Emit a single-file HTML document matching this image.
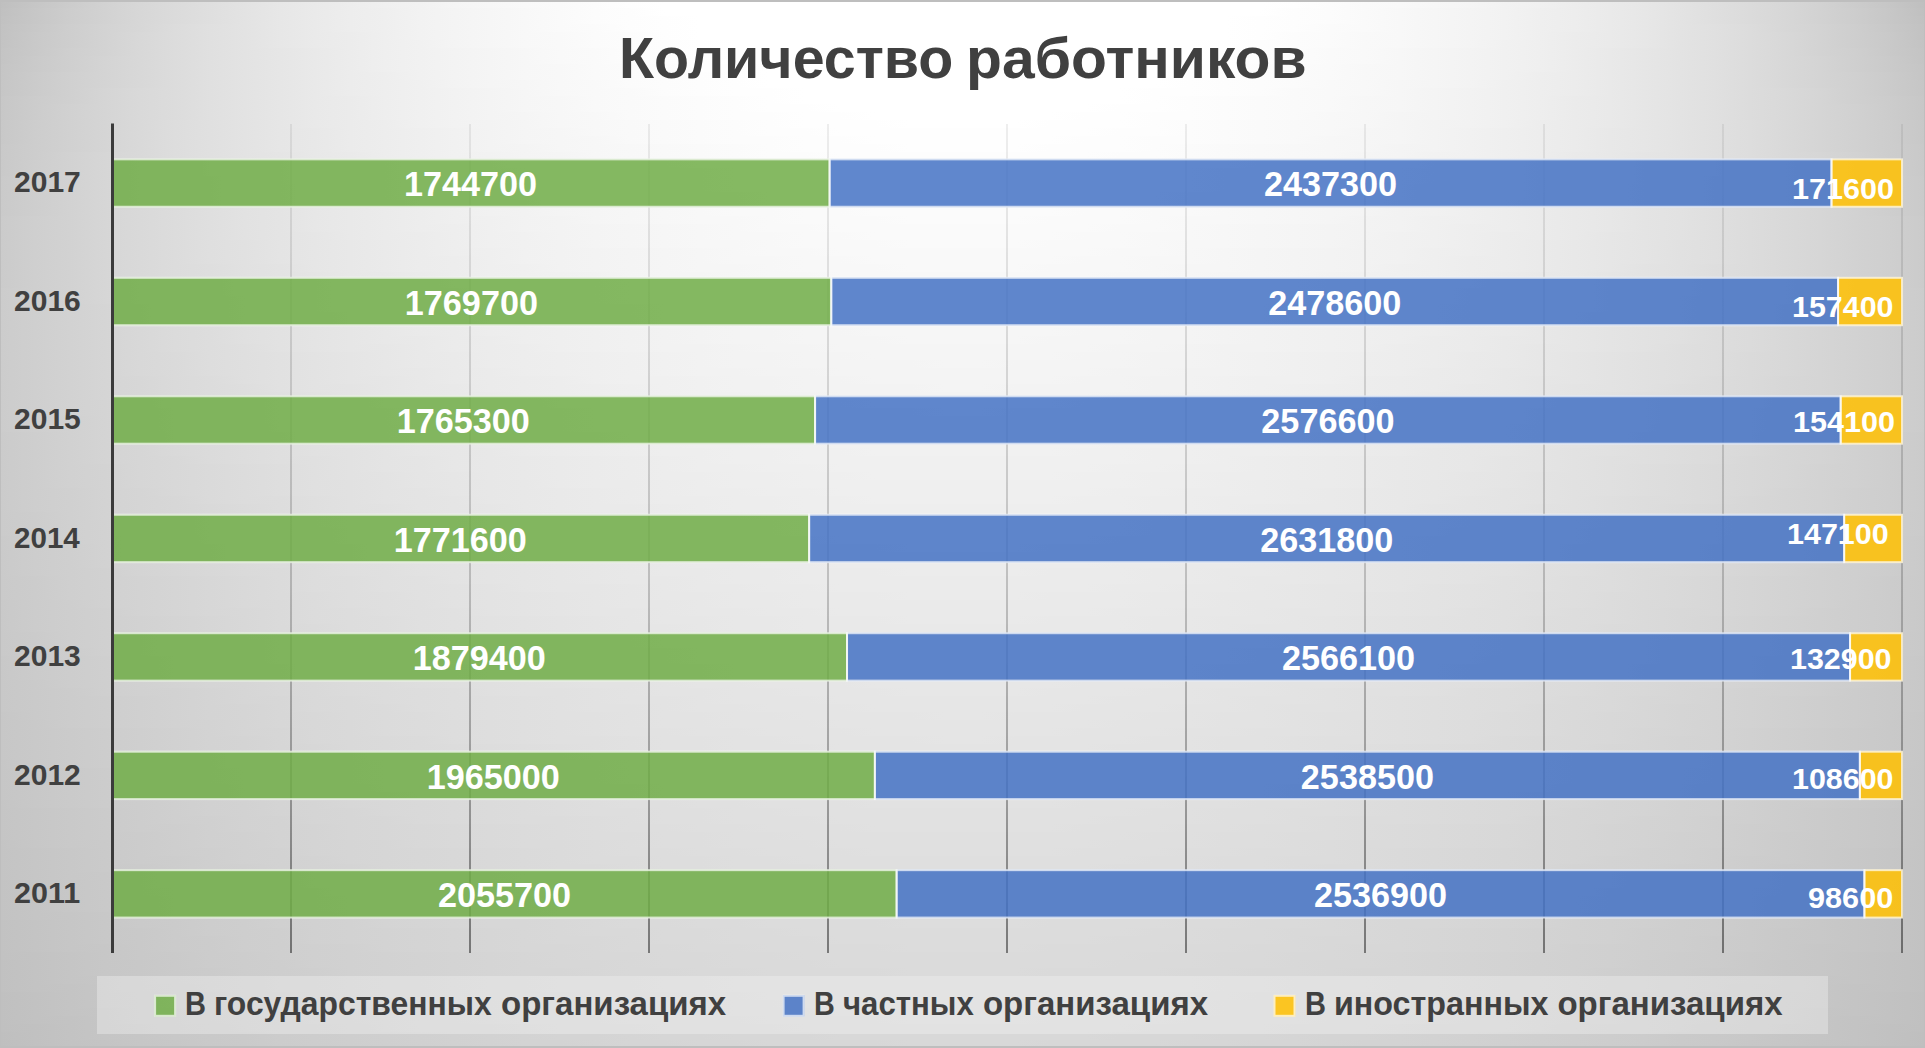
<!DOCTYPE html>
<html><head><meta charset="utf-8"><title>Количество работников</title>
<style>
html,body{margin:0;padding:0;background:#d8d8d8}
#c{position:relative;width:1925px;height:1048px;overflow:hidden;font-family:"Liberation Sans",sans-serif;font-weight:bold}
#bg i{position:absolute;left:0;width:1925px;height:8px;display:block}
#c svg{position:absolute;left:0;top:0}
.t{position:absolute;white-space:nowrap;line-height:1;transform-origin:0 0}
#leg{position:absolute;left:97px;top:976px;width:1731px;height:58px;background:rgba(242,242,242,.39)}
#bd{position:absolute;left:0;top:0;width:1925px;height:1048px;box-sizing:border-box;border:2px solid #bebebe;border-left-width:1px;border-right-width:1px}
</style></head><body>
<div id="c">
<div id="bg">
<i style="top:0px;background:linear-gradient(90deg,#bfbfbf 0px,#c6c6c6 35px,#cccccc 70px,#d2d2d2 105px,#d7d7d7 140px,#dbdbdb 175px,#dfdfdf 210px,#e3e3e3 245px,#e7e7e7 280px,#eaeaea 315px,#ededed 350px,#f0f0f0 385px,#f2f2f2 420px,#f5f5f5 455px,#f7f7f7 490px,#f9f9f9 525px,#fafafa 560px,#fcfcfc 595px,#fefefe 630px,#ffffff 665px,#ffffff 1260px,#fefefe 1295px,#fcfcfc 1330px,#fafafa 1365px,#f9f9f9 1400px,#f7f7f7 1435px,#f5f5f5 1470px,#f2f2f2 1505px,#f0f0f0 1540px,#ededed 1575px,#eaeaea 1610px,#e7e7e7 1645px,#e3e3e3 1680px,#dfdfdf 1715px,#dbdbdb 1750px,#d7d7d7 1785px,#d2d2d2 1820px,#cccccc 1855px,#c6c6c6 1890px,#bfbfbf 1925px)"></i>
<i style="top:8px;background:linear-gradient(90deg,#c0c0c0 0px,#c7c7c7 35px,#cdcdcd 70px,#d2d2d2 105px,#d7d7d7 140px,#dbdbdb 175px,#dfdfdf 210px,#e3e3e3 245px,#e7e7e7 280px,#eaeaea 315px,#ededed 350px,#efefef 385px,#f2f2f2 420px,#f4f4f4 455px,#f6f6f6 490px,#f8f8f8 525px,#fafafa 560px,#fcfcfc 595px,#fdfdfd 630px,#ffffff 665px,#ffffff 1260px,#fdfdfd 1295px,#fcfcfc 1330px,#fafafa 1365px,#f8f8f8 1400px,#f6f6f6 1435px,#f4f4f4 1470px,#f2f2f2 1505px,#efefef 1540px,#ededed 1575px,#eaeaea 1610px,#e7e7e7 1645px,#e3e3e3 1680px,#dfdfdf 1715px,#dbdbdb 1750px,#d7d7d7 1785px,#d2d2d2 1820px,#cdcdcd 1855px,#c7c7c7 1890px,#c0c0c0 1925px)"></i>
<i style="top:16px;background:linear-gradient(90deg,#c1c1c1 0px,#c7c7c7 35px,#cdcdcd 70px,#d2d2d2 105px,#d7d7d7 140px,#dbdbdb 175px,#dfdfdf 210px,#e3e3e3 245px,#e7e7e7 280px,#eaeaea 315px,#ededed 350px,#efefef 385px,#f2f2f2 420px,#f4f4f4 455px,#f6f6f6 490px,#f8f8f8 525px,#fafafa 560px,#fcfcfc 595px,#fdfdfd 630px,#fefefe 665px,#ffffff 700px,#ffffff 1225px,#fefefe 1260px,#fdfdfd 1295px,#fcfcfc 1330px,#fafafa 1365px,#f8f8f8 1400px,#f6f6f6 1435px,#f4f4f4 1470px,#f2f2f2 1505px,#efefef 1540px,#ededed 1575px,#eaeaea 1610px,#e7e7e7 1645px,#e3e3e3 1680px,#dfdfdf 1715px,#dbdbdb 1750px,#d7d7d7 1785px,#d2d2d2 1820px,#cdcdcd 1855px,#c7c7c7 1890px,#c1c1c1 1925px)"></i>
<i style="top:24px;background:linear-gradient(90deg,#c2c2c2 0px,#c8c8c8 35px,#cecece 70px,#d3d3d3 105px,#d7d7d7 140px,#dcdcdc 175px,#e0e0e0 210px,#e3e3e3 245px,#e7e7e7 280px,#eaeaea 315px,#ededed 350px,#efefef 385px,#f2f2f2 420px,#f4f4f4 455px,#f6f6f6 490px,#f8f8f8 525px,#fafafa 560px,#fbfbfb 595px,#fdfdfd 630px,#fefefe 665px,#ffffff 700px,#ffffff 1225px,#fefefe 1260px,#fdfdfd 1295px,#fbfbfb 1330px,#fafafa 1365px,#f8f8f8 1400px,#f6f6f6 1435px,#f4f4f4 1470px,#f2f2f2 1505px,#efefef 1540px,#ededed 1575px,#eaeaea 1610px,#e7e7e7 1645px,#e3e3e3 1680px,#e0e0e0 1715px,#dcdcdc 1750px,#d7d7d7 1785px,#d3d3d3 1820px,#cecece 1855px,#c8c8c8 1890px,#c2c2c2 1925px)"></i>
<i style="top:32px;background:linear-gradient(90deg,#c2c2c2 0px,#c9c9c9 35px,#cecece 70px,#d3d3d3 105px,#d8d8d8 140px,#dcdcdc 175px,#e0e0e0 210px,#e3e3e3 245px,#e7e7e7 280px,#eaeaea 315px,#ececec 350px,#efefef 385px,#f2f2f2 420px,#f4f4f4 455px,#f6f6f6 490px,#f8f8f8 525px,#f9f9f9 560px,#fbfbfb 595px,#fcfcfc 630px,#fefefe 665px,#ffffff 700px,#ffffff 1225px,#fefefe 1260px,#fcfcfc 1295px,#fbfbfb 1330px,#f9f9f9 1365px,#f8f8f8 1400px,#f6f6f6 1435px,#f4f4f4 1470px,#f2f2f2 1505px,#efefef 1540px,#ececec 1575px,#eaeaea 1610px,#e7e7e7 1645px,#e3e3e3 1680px,#e0e0e0 1715px,#dcdcdc 1750px,#d8d8d8 1785px,#d3d3d3 1820px,#cecece 1855px,#c9c9c9 1890px,#c2c2c2 1925px)"></i>
<i style="top:40px;background:linear-gradient(90deg,#c3c3c3 0px,#c9c9c9 35px,#cecece 70px,#d3d3d3 105px,#d8d8d8 140px,#dcdcdc 175px,#e0e0e0 210px,#e3e3e3 245px,#e7e7e7 280px,#eaeaea 315px,#ececec 350px,#efefef 385px,#f1f1f1 420px,#f4f4f4 455px,#f6f6f6 490px,#f8f8f8 525px,#f9f9f9 560px,#fbfbfb 595px,#fcfcfc 630px,#fdfdfd 665px,#fefefe 700px,#ffffff 735px,#ffffff 1190px,#fefefe 1225px,#fdfdfd 1260px,#fcfcfc 1295px,#fbfbfb 1330px,#f9f9f9 1365px,#f8f8f8 1400px,#f6f6f6 1435px,#f4f4f4 1470px,#f1f1f1 1505px,#efefef 1540px,#ececec 1575px,#eaeaea 1610px,#e7e7e7 1645px,#e3e3e3 1680px,#e0e0e0 1715px,#dcdcdc 1750px,#d8d8d8 1785px,#d3d3d3 1820px,#cecece 1855px,#c9c9c9 1890px,#c3c3c3 1925px)"></i>
<i style="top:48px;background:linear-gradient(90deg,#c4c4c4 0px,#c9c9c9 35px,#cfcfcf 70px,#d3d3d3 105px,#d8d8d8 140px,#dcdcdc 175px,#e0e0e0 210px,#e3e3e3 245px,#e6e6e6 280px,#e9e9e9 315px,#ececec 350px,#efefef 385px,#f1f1f1 420px,#f3f3f3 455px,#f5f5f5 490px,#f7f7f7 525px,#f9f9f9 560px,#fafafa 595px,#fcfcfc 630px,#fdfdfd 665px,#fefefe 700px,#ffffff 735px,#ffffff 1190px,#fefefe 1225px,#fdfdfd 1260px,#fcfcfc 1295px,#fafafa 1330px,#f9f9f9 1365px,#f7f7f7 1400px,#f5f5f5 1435px,#f3f3f3 1470px,#f1f1f1 1505px,#efefef 1540px,#ececec 1575px,#e9e9e9 1610px,#e6e6e6 1645px,#e3e3e3 1680px,#e0e0e0 1715px,#dcdcdc 1750px,#d8d8d8 1785px,#d3d3d3 1820px,#cfcfcf 1855px,#c9c9c9 1890px,#c4c4c4 1925px)"></i>
<i style="top:56px;background:linear-gradient(90deg,#c4c4c4 0px,#cacaca 35px,#cfcfcf 70px,#d4d4d4 105px,#d8d8d8 140px,#dcdcdc 175px,#e0e0e0 210px,#e3e3e3 245px,#e6e6e6 280px,#e9e9e9 315px,#ececec 350px,#efefef 385px,#f1f1f1 420px,#f3f3f3 455px,#f5f5f5 490px,#f7f7f7 525px,#f9f9f9 560px,#fafafa 595px,#fcfcfc 630px,#fdfdfd 665px,#fefefe 700px,#ffffff 735px,#ffffff 1190px,#fefefe 1225px,#fdfdfd 1260px,#fcfcfc 1295px,#fafafa 1330px,#f9f9f9 1365px,#f7f7f7 1400px,#f5f5f5 1435px,#f3f3f3 1470px,#f1f1f1 1505px,#efefef 1540px,#ececec 1575px,#e9e9e9 1610px,#e6e6e6 1645px,#e3e3e3 1680px,#e0e0e0 1715px,#dcdcdc 1750px,#d8d8d8 1785px,#d4d4d4 1820px,#cfcfcf 1855px,#cacaca 1890px,#c4c4c4 1925px)"></i>
<i style="top:64px;background:linear-gradient(90deg,#c5c5c5 0px,#cacaca 35px,#cfcfcf 70px,#d4d4d4 105px,#d8d8d8 140px,#dcdcdc 175px,#e0e0e0 210px,#e3e3e3 245px,#e6e6e6 280px,#e9e9e9 315px,#ececec 350px,#efefef 385px,#f1f1f1 420px,#f3f3f3 455px,#f5f5f5 490px,#f7f7f7 525px,#f8f8f8 560px,#fafafa 595px,#fbfbfb 630px,#fcfcfc 665px,#fefefe 700px,#fefefe 735px,#ffffff 770px,#ffffff 1155px,#fefefe 1190px,#fefefe 1225px,#fcfcfc 1260px,#fbfbfb 1295px,#fafafa 1330px,#f8f8f8 1365px,#f7f7f7 1400px,#f5f5f5 1435px,#f3f3f3 1470px,#f1f1f1 1505px,#efefef 1540px,#ececec 1575px,#e9e9e9 1610px,#e6e6e6 1645px,#e3e3e3 1680px,#e0e0e0 1715px,#dcdcdc 1750px,#d8d8d8 1785px,#d4d4d4 1820px,#cfcfcf 1855px,#cacaca 1890px,#c5c5c5 1925px)"></i>
<i style="top:72px;background:linear-gradient(90deg,#c5c5c5 0px,#cbcbcb 35px,#d0d0d0 70px,#d4d4d4 105px,#d8d8d8 140px,#dcdcdc 175px,#e0e0e0 210px,#e3e3e3 245px,#e6e6e6 280px,#e9e9e9 315px,#ececec 350px,#eeeeee 385px,#f1f1f1 420px,#f3f3f3 455px,#f5f5f5 490px,#f7f7f7 525px,#f8f8f8 560px,#fafafa 595px,#fbfbfb 630px,#fcfcfc 665px,#fdfdfd 700px,#fefefe 735px,#ffffff 770px,#ffffff 1155px,#fefefe 1190px,#fdfdfd 1225px,#fcfcfc 1260px,#fbfbfb 1295px,#fafafa 1330px,#f8f8f8 1365px,#f7f7f7 1400px,#f5f5f5 1435px,#f3f3f3 1470px,#f1f1f1 1505px,#eeeeee 1540px,#ececec 1575px,#e9e9e9 1610px,#e6e6e6 1645px,#e3e3e3 1680px,#e0e0e0 1715px,#dcdcdc 1750px,#d8d8d8 1785px,#d4d4d4 1820px,#d0d0d0 1855px,#cbcbcb 1890px,#c5c5c5 1925px)"></i>
<i style="top:80px;background:linear-gradient(90deg,#c6c6c6 0px,#cbcbcb 35px,#d0d0d0 70px,#d4d4d4 105px,#d8d8d8 140px,#dcdcdc 175px,#e0e0e0 210px,#e3e3e3 245px,#e6e6e6 280px,#e9e9e9 315px,#ececec 350px,#eeeeee 385px,#f0f0f0 420px,#f3f3f3 455px,#f5f5f5 490px,#f6f6f6 525px,#f8f8f8 560px,#f9f9f9 595px,#fbfbfb 630px,#fcfcfc 665px,#fdfdfd 700px,#fefefe 735px,#ffffff 770px,#ffffff 1155px,#fefefe 1190px,#fdfdfd 1225px,#fcfcfc 1260px,#fbfbfb 1295px,#f9f9f9 1330px,#f8f8f8 1365px,#f6f6f6 1400px,#f5f5f5 1435px,#f3f3f3 1470px,#f0f0f0 1505px,#eeeeee 1540px,#ececec 1575px,#e9e9e9 1610px,#e6e6e6 1645px,#e3e3e3 1680px,#e0e0e0 1715px,#dcdcdc 1750px,#d8d8d8 1785px,#d4d4d4 1820px,#d0d0d0 1855px,#cbcbcb 1890px,#c6c6c6 1925px)"></i>
<i style="top:88px;background:linear-gradient(90deg,#c6c6c6 0px,#cbcbcb 35px,#d0d0d0 70px,#d5d5d5 105px,#d9d9d9 140px,#dcdcdc 175px,#e0e0e0 210px,#e3e3e3 245px,#e6e6e6 280px,#e9e9e9 315px,#ececec 350px,#eeeeee 385px,#f0f0f0 420px,#f2f2f2 455px,#f4f4f4 490px,#f6f6f6 525px,#f8f8f8 560px,#f9f9f9 595px,#fafafa 630px,#fcfcfc 665px,#fdfdfd 700px,#fefefe 735px,#fefefe 770px,#ffffff 805px,#ffffff 1120px,#fefefe 1155px,#fefefe 1190px,#fdfdfd 1225px,#fcfcfc 1260px,#fafafa 1295px,#f9f9f9 1330px,#f8f8f8 1365px,#f6f6f6 1400px,#f4f4f4 1435px,#f2f2f2 1470px,#f0f0f0 1505px,#eeeeee 1540px,#ececec 1575px,#e9e9e9 1610px,#e6e6e6 1645px,#e3e3e3 1680px,#e0e0e0 1715px,#dcdcdc 1750px,#d9d9d9 1785px,#d5d5d5 1820px,#d0d0d0 1855px,#cbcbcb 1890px,#c6c6c6 1925px)"></i>
<i style="top:96px;background:linear-gradient(90deg,#c7c7c7 0px,#cccccc 35px,#d0d0d0 70px,#d5d5d5 105px,#d9d9d9 140px,#dcdcdc 175px,#e0e0e0 210px,#e3e3e3 245px,#e6e6e6 280px,#e9e9e9 315px,#ebebeb 350px,#eeeeee 385px,#f0f0f0 420px,#f2f2f2 455px,#f4f4f4 490px,#f6f6f6 525px,#f7f7f7 560px,#f9f9f9 595px,#fafafa 630px,#fbfbfb 665px,#fcfcfc 700px,#fdfdfd 735px,#fefefe 770px,#ffffff 805px,#ffffff 1120px,#fefefe 1155px,#fdfdfd 1190px,#fcfcfc 1225px,#fbfbfb 1260px,#fafafa 1295px,#f9f9f9 1330px,#f7f7f7 1365px,#f6f6f6 1400px,#f4f4f4 1435px,#f2f2f2 1470px,#f0f0f0 1505px,#eeeeee 1540px,#ebebeb 1575px,#e9e9e9 1610px,#e6e6e6 1645px,#e3e3e3 1680px,#e0e0e0 1715px,#dcdcdc 1750px,#d9d9d9 1785px,#d5d5d5 1820px,#d0d0d0 1855px,#cccccc 1890px,#c7c7c7 1925px)"></i>
<i style="top:104px;background:linear-gradient(90deg,#c7c7c7 0px,#cccccc 35px,#d1d1d1 70px,#d5d5d5 105px,#d9d9d9 140px,#dcdcdc 175px,#e0e0e0 210px,#e3e3e3 245px,#e6e6e6 280px,#e9e9e9 315px,#ebebeb 350px,#eeeeee 385px,#f0f0f0 420px,#f2f2f2 455px,#f4f4f4 490px,#f6f6f6 525px,#f7f7f7 560px,#f9f9f9 595px,#fafafa 630px,#fbfbfb 665px,#fcfcfc 700px,#fdfdfd 735px,#fefefe 770px,#fefefe 805px,#ffffff 840px,#ffffff 1085px,#fefefe 1120px,#fefefe 1155px,#fdfdfd 1190px,#fcfcfc 1225px,#fbfbfb 1260px,#fafafa 1295px,#f9f9f9 1330px,#f7f7f7 1365px,#f6f6f6 1400px,#f4f4f4 1435px,#f2f2f2 1470px,#f0f0f0 1505px,#eeeeee 1540px,#ebebeb 1575px,#e9e9e9 1610px,#e6e6e6 1645px,#e3e3e3 1680px,#e0e0e0 1715px,#dcdcdc 1750px,#d9d9d9 1785px,#d5d5d5 1820px,#d1d1d1 1855px,#cccccc 1890px,#c7c7c7 1925px)"></i>
<i style="top:112px;background:linear-gradient(90deg,#c7c7c7 0px,#cccccc 35px,#d1d1d1 70px,#d5d5d5 105px,#d9d9d9 140px,#dcdcdc 175px,#e0e0e0 210px,#e3e3e3 245px,#e6e6e6 280px,#e9e9e9 315px,#ebebeb 350px,#eeeeee 385px,#f0f0f0 420px,#f2f2f2 455px,#f4f4f4 490px,#f5f5f5 525px,#f7f7f7 560px,#f8f8f8 595px,#fafafa 630px,#fbfbfb 665px,#fcfcfc 700px,#fdfdfd 735px,#fdfdfd 770px,#fefefe 805px,#fefefe 840px,#ffffff 875px,#ffffff 1050px,#fefefe 1085px,#fefefe 1120px,#fdfdfd 1155px,#fdfdfd 1190px,#fcfcfc 1225px,#fbfbfb 1260px,#fafafa 1295px,#f8f8f8 1330px,#f7f7f7 1365px,#f5f5f5 1400px,#f4f4f4 1435px,#f2f2f2 1470px,#f0f0f0 1505px,#eeeeee 1540px,#ebebeb 1575px,#e9e9e9 1610px,#e6e6e6 1645px,#e3e3e3 1680px,#e0e0e0 1715px,#dcdcdc 1750px,#d9d9d9 1785px,#d5d5d5 1820px,#d1d1d1 1855px,#cccccc 1890px,#c7c7c7 1925px)"></i>
<i style="top:120px;background:linear-gradient(90deg,#c8c8c8 0px,#cdcdcd 35px,#d1d1d1 70px,#d5d5d5 105px,#d9d9d9 140px,#dddddd 175px,#e0e0e0 210px,#e3e3e3 245px,#e6e6e6 280px,#e9e9e9 315px,#ebebeb 350px,#ededed 385px,#f0f0f0 420px,#f2f2f2 455px,#f3f3f3 490px,#f5f5f5 525px,#f7f7f7 560px,#f8f8f8 595px,#f9f9f9 630px,#fafafa 665px,#fbfbfb 700px,#fcfcfc 735px,#fdfdfd 770px,#fefefe 805px,#fefefe 875px,#ffffff 910px,#ffffff 1015px,#fefefe 1050px,#fefefe 1120px,#fdfdfd 1155px,#fcfcfc 1190px,#fbfbfb 1225px,#fafafa 1260px,#f9f9f9 1295px,#f8f8f8 1330px,#f7f7f7 1365px,#f5f5f5 1400px,#f3f3f3 1435px,#f2f2f2 1470px,#f0f0f0 1505px,#ededed 1540px,#ebebeb 1575px,#e9e9e9 1610px,#e6e6e6 1645px,#e3e3e3 1680px,#e0e0e0 1715px,#dddddd 1750px,#d9d9d9 1785px,#d5d5d5 1820px,#d1d1d1 1855px,#cdcdcd 1890px,#c8c8c8 1925px)"></i>
<i style="top:128px;background:linear-gradient(90deg,#c8c8c8 0px,#cdcdcd 35px,#d1d1d1 70px,#d5d5d5 105px,#d9d9d9 140px,#dddddd 175px,#e0e0e0 210px,#e3e3e3 245px,#e6e6e6 280px,#e8e8e8 315px,#ebebeb 350px,#ededed 385px,#efefef 420px,#f1f1f1 455px,#f3f3f3 490px,#f5f5f5 525px,#f6f6f6 560px,#f8f8f8 595px,#f9f9f9 630px,#fafafa 665px,#fbfbfb 700px,#fcfcfc 735px,#fdfdfd 770px,#fdfdfd 805px,#fefefe 840px,#fefefe 1085px,#fdfdfd 1120px,#fdfdfd 1155px,#fcfcfc 1190px,#fbfbfb 1225px,#fafafa 1260px,#f9f9f9 1295px,#f8f8f8 1330px,#f6f6f6 1365px,#f5f5f5 1400px,#f3f3f3 1435px,#f1f1f1 1470px,#efefef 1505px,#ededed 1540px,#ebebeb 1575px,#e8e8e8 1610px,#e6e6e6 1645px,#e3e3e3 1680px,#e0e0e0 1715px,#dddddd 1750px,#d9d9d9 1785px,#d5d5d5 1820px,#d1d1d1 1855px,#cdcdcd 1890px,#c8c8c8 1925px)"></i>
<i style="top:136px;background:linear-gradient(90deg,#c8c8c8 0px,#cdcdcd 35px,#d1d1d1 70px,#d5d5d5 105px,#d9d9d9 140px,#dddddd 175px,#e0e0e0 210px,#e3e3e3 245px,#e6e6e6 280px,#e8e8e8 315px,#ebebeb 350px,#ededed 385px,#efefef 420px,#f1f1f1 455px,#f3f3f3 490px,#f5f5f5 525px,#f6f6f6 560px,#f7f7f7 595px,#f9f9f9 630px,#fafafa 665px,#fbfbfb 700px,#fcfcfc 735px,#fcfcfc 770px,#fdfdfd 805px,#fdfdfd 840px,#fefefe 875px,#fefefe 1050px,#fdfdfd 1085px,#fdfdfd 1120px,#fcfcfc 1155px,#fcfcfc 1190px,#fbfbfb 1225px,#fafafa 1260px,#f9f9f9 1295px,#f7f7f7 1330px,#f6f6f6 1365px,#f5f5f5 1400px,#f3f3f3 1435px,#f1f1f1 1470px,#efefef 1505px,#ededed 1540px,#ebebeb 1575px,#e8e8e8 1610px,#e6e6e6 1645px,#e3e3e3 1680px,#e0e0e0 1715px,#dddddd 1750px,#d9d9d9 1785px,#d5d5d5 1820px,#d1d1d1 1855px,#cdcdcd 1890px,#c8c8c8 1925px)"></i>
<i style="top:144px;background:linear-gradient(90deg,#c9c9c9 0px,#cdcdcd 35px,#d1d1d1 70px,#d5d5d5 105px,#d9d9d9 140px,#dddddd 175px,#e0e0e0 210px,#e3e3e3 245px,#e6e6e6 280px,#e8e8e8 315px,#ebebeb 350px,#ededed 385px,#efefef 420px,#f1f1f1 455px,#f3f3f3 490px,#f4f4f4 525px,#f6f6f6 560px,#f7f7f7 595px,#f8f8f8 630px,#f9f9f9 665px,#fafafa 700px,#fbfbfb 735px,#fcfcfc 770px,#fdfdfd 805px,#fdfdfd 875px,#fefefe 910px,#fefefe 1015px,#fdfdfd 1050px,#fdfdfd 1120px,#fcfcfc 1155px,#fbfbfb 1190px,#fafafa 1225px,#f9f9f9 1260px,#f8f8f8 1295px,#f7f7f7 1330px,#f6f6f6 1365px,#f4f4f4 1400px,#f3f3f3 1435px,#f1f1f1 1470px,#efefef 1505px,#ededed 1540px,#ebebeb 1575px,#e8e8e8 1610px,#e6e6e6 1645px,#e3e3e3 1680px,#e0e0e0 1715px,#dddddd 1750px,#d9d9d9 1785px,#d5d5d5 1820px,#d1d1d1 1855px,#cdcdcd 1890px,#c9c9c9 1925px)"></i>
<i style="top:152px;background:linear-gradient(90deg,#c9c9c9 0px,#cdcdcd 35px,#d2d2d2 70px,#d6d6d6 105px,#d9d9d9 140px,#dddddd 175px,#e0e0e0 210px,#e3e3e3 245px,#e5e5e5 280px,#e8e8e8 315px,#eaeaea 350px,#ededed 385px,#efefef 420px,#f1f1f1 455px,#f2f2f2 490px,#f4f4f4 525px,#f5f5f5 560px,#f7f7f7 595px,#f8f8f8 630px,#f9f9f9 665px,#fafafa 700px,#fbfbfb 735px,#fcfcfc 770px,#fcfcfc 805px,#fdfdfd 840px,#fdfdfd 1085px,#fcfcfc 1120px,#fcfcfc 1155px,#fbfbfb 1190px,#fafafa 1225px,#f9f9f9 1260px,#f8f8f8 1295px,#f7f7f7 1330px,#f5f5f5 1365px,#f4f4f4 1400px,#f2f2f2 1435px,#f1f1f1 1470px,#efefef 1505px,#ededed 1540px,#eaeaea 1575px,#e8e8e8 1610px,#e5e5e5 1645px,#e3e3e3 1680px,#e0e0e0 1715px,#dddddd 1750px,#d9d9d9 1785px,#d6d6d6 1820px,#d2d2d2 1855px,#cdcdcd 1890px,#c9c9c9 1925px)"></i>
<i style="top:160px;background:linear-gradient(90deg,#c9c9c9 0px,#cecece 35px,#d2d2d2 70px,#d6d6d6 105px,#d9d9d9 140px,#dcdcdc 175px,#e0e0e0 210px,#e3e3e3 245px,#e5e5e5 280px,#e8e8e8 315px,#eaeaea 350px,#ececec 385px,#eeeeee 420px,#f0f0f0 455px,#f2f2f2 490px,#f4f4f4 525px,#f5f5f5 560px,#f7f7f7 595px,#f8f8f8 630px,#f9f9f9 665px,#fafafa 700px,#fbfbfb 735px,#fbfbfb 770px,#fcfcfc 805px,#fcfcfc 840px,#fdfdfd 875px,#fdfdfd 1050px,#fcfcfc 1085px,#fcfcfc 1120px,#fbfbfb 1155px,#fbfbfb 1190px,#fafafa 1225px,#f9f9f9 1260px,#f8f8f8 1295px,#f7f7f7 1330px,#f5f5f5 1365px,#f4f4f4 1400px,#f2f2f2 1435px,#f0f0f0 1470px,#eeeeee 1505px,#ececec 1540px,#eaeaea 1575px,#e8e8e8 1610px,#e5e5e5 1645px,#e3e3e3 1680px,#e0e0e0 1715px,#dcdcdc 1750px,#d9d9d9 1785px,#d6d6d6 1820px,#d2d2d2 1855px,#cecece 1890px,#c9c9c9 1925px)"></i>
<i style="top:168px;background:linear-gradient(90deg,#c9c9c9 0px,#cecece 35px,#d2d2d2 70px,#d6d6d6 105px,#d9d9d9 140px,#dcdcdc 175px,#e0e0e0 210px,#e2e2e2 245px,#e5e5e5 280px,#e8e8e8 315px,#eaeaea 350px,#ececec 385px,#eeeeee 420px,#f0f0f0 455px,#f2f2f2 490px,#f3f3f3 525px,#f5f5f5 560px,#f6f6f6 595px,#f7f7f7 630px,#f9f9f9 665px,#f9f9f9 700px,#fafafa 735px,#fbfbfb 770px,#fcfcfc 805px,#fcfcfc 875px,#fdfdfd 910px,#fdfdfd 1015px,#fcfcfc 1050px,#fcfcfc 1120px,#fbfbfb 1155px,#fafafa 1190px,#f9f9f9 1225px,#f9f9f9 1260px,#f7f7f7 1295px,#f6f6f6 1330px,#f5f5f5 1365px,#f3f3f3 1400px,#f2f2f2 1435px,#f0f0f0 1470px,#eeeeee 1505px,#ececec 1540px,#eaeaea 1575px,#e8e8e8 1610px,#e5e5e5 1645px,#e2e2e2 1680px,#e0e0e0 1715px,#dcdcdc 1750px,#d9d9d9 1785px,#d6d6d6 1820px,#d2d2d2 1855px,#cecece 1890px,#c9c9c9 1925px)"></i>
<i style="top:176px;background:linear-gradient(90deg,#cacaca 0px,#cecece 35px,#d2d2d2 70px,#d6d6d6 105px,#d9d9d9 140px,#dcdcdc 175px,#dfdfdf 210px,#e2e2e2 245px,#e5e5e5 280px,#e8e8e8 315px,#eaeaea 350px,#ececec 385px,#eeeeee 420px,#f0f0f0 455px,#f2f2f2 490px,#f3f3f3 525px,#f5f5f5 560px,#f6f6f6 595px,#f7f7f7 630px,#f8f8f8 665px,#f9f9f9 700px,#fafafa 735px,#fbfbfb 770px,#fbfbfb 805px,#fcfcfc 840px,#fcfcfc 1085px,#fbfbfb 1120px,#fbfbfb 1155px,#fafafa 1190px,#f9f9f9 1225px,#f8f8f8 1260px,#f7f7f7 1295px,#f6f6f6 1330px,#f5f5f5 1365px,#f3f3f3 1400px,#f2f2f2 1435px,#f0f0f0 1470px,#eeeeee 1505px,#ececec 1540px,#eaeaea 1575px,#e8e8e8 1610px,#e5e5e5 1645px,#e2e2e2 1680px,#dfdfdf 1715px,#dcdcdc 1750px,#d9d9d9 1785px,#d6d6d6 1820px,#d2d2d2 1855px,#cecece 1890px,#cacaca 1925px)"></i>
<i style="top:184px;background:linear-gradient(90deg,#cacaca 0px,#cecece 35px,#d2d2d2 70px,#d6d6d6 105px,#d9d9d9 140px,#dcdcdc 175px,#dfdfdf 210px,#e2e2e2 245px,#e5e5e5 280px,#e7e7e7 315px,#eaeaea 350px,#ececec 385px,#eeeeee 420px,#f0f0f0 455px,#f1f1f1 490px,#f3f3f3 525px,#f4f4f4 560px,#f6f6f6 595px,#f7f7f7 630px,#f8f8f8 665px,#f9f9f9 700px,#fafafa 735px,#fafafa 770px,#fbfbfb 805px,#fbfbfb 840px,#fcfcfc 875px,#fcfcfc 1050px,#fbfbfb 1085px,#fbfbfb 1120px,#fafafa 1155px,#fafafa 1190px,#f9f9f9 1225px,#f8f8f8 1260px,#f7f7f7 1295px,#f6f6f6 1330px,#f4f4f4 1365px,#f3f3f3 1400px,#f1f1f1 1435px,#f0f0f0 1470px,#eeeeee 1505px,#ececec 1540px,#eaeaea 1575px,#e7e7e7 1610px,#e5e5e5 1645px,#e2e2e2 1680px,#dfdfdf 1715px,#dcdcdc 1750px,#d9d9d9 1785px,#d6d6d6 1820px,#d2d2d2 1855px,#cecece 1890px,#cacaca 1925px)"></i>
<i style="top:192px;background:linear-gradient(90deg,#cacaca 0px,#cecece 35px,#d2d2d2 70px,#d6d6d6 105px,#d9d9d9 140px,#dcdcdc 175px,#dfdfdf 210px,#e2e2e2 245px,#e5e5e5 280px,#e7e7e7 315px,#e9e9e9 350px,#ececec 385px,#eeeeee 420px,#efefef 455px,#f1f1f1 490px,#f3f3f3 525px,#f4f4f4 560px,#f5f5f5 595px,#f7f7f7 630px,#f8f8f8 665px,#f9f9f9 700px,#f9f9f9 735px,#fafafa 770px,#fbfbfb 805px,#fbfbfb 875px,#fcfcfc 910px,#fcfcfc 1015px,#fbfbfb 1050px,#fbfbfb 1120px,#fafafa 1155px,#f9f9f9 1190px,#f9f9f9 1225px,#f8f8f8 1260px,#f7f7f7 1295px,#f5f5f5 1330px,#f4f4f4 1365px,#f3f3f3 1400px,#f1f1f1 1435px,#efefef 1470px,#eeeeee 1505px,#ececec 1540px,#e9e9e9 1575px,#e7e7e7 1610px,#e5e5e5 1645px,#e2e2e2 1680px,#dfdfdf 1715px,#dcdcdc 1750px,#d9d9d9 1785px,#d6d6d6 1820px,#d2d2d2 1855px,#cecece 1890px,#cacaca 1925px)"></i>
<i style="top:200px;background:linear-gradient(90deg,#cacaca 0px,#cecece 35px,#d2d2d2 70px,#d6d6d6 105px,#d9d9d9 140px,#dcdcdc 175px,#dfdfdf 210px,#e2e2e2 245px,#e5e5e5 280px,#e7e7e7 315px,#e9e9e9 350px,#ebebeb 385px,#ededed 420px,#efefef 455px,#f1f1f1 490px,#f2f2f2 525px,#f4f4f4 560px,#f5f5f5 595px,#f6f6f6 630px,#f7f7f7 665px,#f8f8f8 700px,#f9f9f9 735px,#fafafa 770px,#fafafa 805px,#fbfbfb 840px,#fbfbfb 1085px,#fafafa 1120px,#fafafa 1155px,#f9f9f9 1190px,#f8f8f8 1225px,#f7f7f7 1260px,#f6f6f6 1295px,#f5f5f5 1330px,#f4f4f4 1365px,#f2f2f2 1400px,#f1f1f1 1435px,#efefef 1470px,#ededed 1505px,#ebebeb 1540px,#e9e9e9 1575px,#e7e7e7 1610px,#e5e5e5 1645px,#e2e2e2 1680px,#dfdfdf 1715px,#dcdcdc 1750px,#d9d9d9 1785px,#d6d6d6 1820px,#d2d2d2 1855px,#cecece 1890px,#cacaca 1925px)"></i>
<i style="top:208px;background:linear-gradient(90deg,#cacaca 0px,#cecece 35px,#d2d2d2 70px,#d6d6d6 105px,#d9d9d9 140px,#dcdcdc 175px,#dfdfdf 210px,#e2e2e2 245px,#e4e4e4 280px,#e7e7e7 315px,#e9e9e9 350px,#ebebeb 385px,#ededed 420px,#efefef 455px,#f1f1f1 490px,#f2f2f2 525px,#f4f4f4 560px,#f5f5f5 595px,#f6f6f6 630px,#f7f7f7 665px,#f8f8f8 700px,#f9f9f9 735px,#f9f9f9 770px,#fafafa 805px,#fafafa 840px,#fbfbfb 875px,#fbfbfb 1050px,#fafafa 1085px,#fafafa 1120px,#f9f9f9 1155px,#f9f9f9 1190px,#f8f8f8 1225px,#f7f7f7 1260px,#f6f6f6 1295px,#f5f5f5 1330px,#f4f4f4 1365px,#f2f2f2 1400px,#f1f1f1 1435px,#efefef 1470px,#ededed 1505px,#ebebeb 1540px,#e9e9e9 1575px,#e7e7e7 1610px,#e4e4e4 1645px,#e2e2e2 1680px,#dfdfdf 1715px,#dcdcdc 1750px,#d9d9d9 1785px,#d6d6d6 1820px,#d2d2d2 1855px,#cecece 1890px,#cacaca 1925px)"></i>
<i style="top:216px;background:linear-gradient(90deg,#cbcbcb 0px,#cfcfcf 35px,#d2d2d2 70px,#d6d6d6 105px,#d9d9d9 140px,#dcdcdc 175px,#dfdfdf 210px,#e2e2e2 245px,#e4e4e4 280px,#e7e7e7 315px,#e9e9e9 350px,#ebebeb 385px,#ededed 420px,#efefef 455px,#f0f0f0 490px,#f2f2f2 525px,#f3f3f3 560px,#f5f5f5 595px,#f6f6f6 630px,#f7f7f7 665px,#f8f8f8 700px,#f8f8f8 735px,#f9f9f9 770px,#fafafa 805px,#fafafa 875px,#fbfbfb 910px,#fbfbfb 1015px,#fafafa 1050px,#fafafa 1120px,#f9f9f9 1155px,#f8f8f8 1190px,#f8f8f8 1225px,#f7f7f7 1260px,#f6f6f6 1295px,#f5f5f5 1330px,#f3f3f3 1365px,#f2f2f2 1400px,#f0f0f0 1435px,#efefef 1470px,#ededed 1505px,#ebebeb 1540px,#e9e9e9 1575px,#e7e7e7 1610px,#e4e4e4 1645px,#e2e2e2 1680px,#dfdfdf 1715px,#dcdcdc 1750px,#d9d9d9 1785px,#d6d6d6 1820px,#d2d2d2 1855px,#cfcfcf 1890px,#cbcbcb 1925px)"></i>
<i style="top:224px;background:linear-gradient(90deg,#cbcbcb 0px,#cfcfcf 35px,#d2d2d2 70px,#d6d6d6 105px,#d9d9d9 140px,#dcdcdc 175px,#dfdfdf 210px,#e2e2e2 245px,#e4e4e4 280px,#e7e7e7 315px,#e9e9e9 350px,#ebebeb 385px,#ededed 420px,#eeeeee 455px,#f0f0f0 490px,#f2f2f2 525px,#f3f3f3 560px,#f4f4f4 595px,#f5f5f5 630px,#f6f6f6 665px,#f7f7f7 700px,#f8f8f8 735px,#f9f9f9 770px,#f9f9f9 805px,#fafafa 840px,#fafafa 1085px,#f9f9f9 1120px,#f9f9f9 1155px,#f8f8f8 1190px,#f7f7f7 1225px,#f6f6f6 1260px,#f5f5f5 1295px,#f4f4f4 1330px,#f3f3f3 1365px,#f2f2f2 1400px,#f0f0f0 1435px,#eeeeee 1470px,#ededed 1505px,#ebebeb 1540px,#e9e9e9 1575px,#e7e7e7 1610px,#e4e4e4 1645px,#e2e2e2 1680px,#dfdfdf 1715px,#dcdcdc 1750px,#d9d9d9 1785px,#d6d6d6 1820px,#d2d2d2 1855px,#cfcfcf 1890px,#cbcbcb 1925px)"></i>
<i style="top:232px;background:linear-gradient(90deg,#cbcbcb 0px,#cfcfcf 35px,#d2d2d2 70px,#d6d6d6 105px,#d9d9d9 140px,#dcdcdc 175px,#dfdfdf 210px,#e2e2e2 245px,#e4e4e4 280px,#e6e6e6 315px,#e9e9e9 350px,#ebebeb 385px,#ececec 420px,#eeeeee 455px,#f0f0f0 490px,#f1f1f1 525px,#f3f3f3 560px,#f4f4f4 595px,#f5f5f5 630px,#f6f6f6 665px,#f7f7f7 700px,#f8f8f8 735px,#f8f8f8 770px,#f9f9f9 805px,#f9f9f9 840px,#fafafa 875px,#fafafa 1050px,#f9f9f9 1085px,#f9f9f9 1120px,#f8f8f8 1155px,#f8f8f8 1190px,#f7f7f7 1225px,#f6f6f6 1260px,#f5f5f5 1295px,#f4f4f4 1330px,#f3f3f3 1365px,#f1f1f1 1400px,#f0f0f0 1435px,#eeeeee 1470px,#ececec 1505px,#ebebeb 1540px,#e9e9e9 1575px,#e6e6e6 1610px,#e4e4e4 1645px,#e2e2e2 1680px,#dfdfdf 1715px,#dcdcdc 1750px,#d9d9d9 1785px,#d6d6d6 1820px,#d2d2d2 1855px,#cfcfcf 1890px,#cbcbcb 1925px)"></i>
<i style="top:240px;background:linear-gradient(90deg,#cbcbcb 0px,#cfcfcf 35px,#d2d2d2 70px,#d6d6d6 105px,#d9d9d9 140px,#dcdcdc 175px,#dfdfdf 210px,#e1e1e1 245px,#e4e4e4 280px,#e6e6e6 315px,#e8e8e8 350px,#eaeaea 385px,#ececec 420px,#eeeeee 455px,#f0f0f0 490px,#f1f1f1 525px,#f2f2f2 560px,#f4f4f4 595px,#f5f5f5 630px,#f6f6f6 665px,#f7f7f7 700px,#f7f7f7 735px,#f8f8f8 770px,#f9f9f9 805px,#f9f9f9 875px,#fafafa 910px,#fafafa 1015px,#f9f9f9 1050px,#f9f9f9 1120px,#f8f8f8 1155px,#f7f7f7 1190px,#f7f7f7 1225px,#f6f6f6 1260px,#f5f5f5 1295px,#f4f4f4 1330px,#f2f2f2 1365px,#f1f1f1 1400px,#f0f0f0 1435px,#eeeeee 1470px,#ececec 1505px,#eaeaea 1540px,#e8e8e8 1575px,#e6e6e6 1610px,#e4e4e4 1645px,#e1e1e1 1680px,#dfdfdf 1715px,#dcdcdc 1750px,#d9d9d9 1785px,#d6d6d6 1820px,#d2d2d2 1855px,#cfcfcf 1890px,#cbcbcb 1925px)"></i>
<i style="top:248px;background:linear-gradient(90deg,#cbcbcb 0px,#cfcfcf 35px,#d2d2d2 70px,#d6d6d6 105px,#d9d9d9 140px,#dcdcdc 175px,#dfdfdf 210px,#e1e1e1 245px,#e4e4e4 280px,#e6e6e6 315px,#e8e8e8 350px,#eaeaea 385px,#ececec 420px,#eeeeee 455px,#efefef 490px,#f1f1f1 525px,#f2f2f2 560px,#f3f3f3 595px,#f4f4f4 630px,#f5f5f5 665px,#f6f6f6 700px,#f7f7f7 735px,#f8f8f8 770px,#f8f8f8 805px,#f9f9f9 840px,#f9f9f9 1085px,#f8f8f8 1120px,#f8f8f8 1155px,#f7f7f7 1190px,#f6f6f6 1225px,#f5f5f5 1260px,#f4f4f4 1295px,#f3f3f3 1330px,#f2f2f2 1365px,#f1f1f1 1400px,#efefef 1435px,#eeeeee 1470px,#ececec 1505px,#eaeaea 1540px,#e8e8e8 1575px,#e6e6e6 1610px,#e4e4e4 1645px,#e1e1e1 1680px,#dfdfdf 1715px,#dcdcdc 1750px,#d9d9d9 1785px,#d6d6d6 1820px,#d2d2d2 1855px,#cfcfcf 1890px,#cbcbcb 1925px)"></i>
<i style="top:256px;background:linear-gradient(90deg,#cbcbcb 0px,#cfcfcf 35px,#d2d2d2 70px,#d6d6d6 105px,#d9d9d9 140px,#dcdcdc 175px,#dfdfdf 210px,#e1e1e1 245px,#e4e4e4 280px,#e6e6e6 315px,#e8e8e8 350px,#eaeaea 385px,#ececec 420px,#ededed 455px,#efefef 490px,#f1f1f1 525px,#f2f2f2 560px,#f3f3f3 595px,#f4f4f4 630px,#f5f5f5 665px,#f6f6f6 700px,#f7f7f7 735px,#f7f7f7 770px,#f8f8f8 805px,#f8f8f8 840px,#f9f9f9 875px,#f9f9f9 1050px,#f8f8f8 1085px,#f8f8f8 1120px,#f7f7f7 1155px,#f7f7f7 1190px,#f6f6f6 1225px,#f5f5f5 1260px,#f4f4f4 1295px,#f3f3f3 1330px,#f2f2f2 1365px,#f1f1f1 1400px,#efefef 1435px,#ededed 1470px,#ececec 1505px,#eaeaea 1540px,#e8e8e8 1575px,#e6e6e6 1610px,#e4e4e4 1645px,#e1e1e1 1680px,#dfdfdf 1715px,#dcdcdc 1750px,#d9d9d9 1785px,#d6d6d6 1820px,#d2d2d2 1855px,#cfcfcf 1890px,#cbcbcb 1925px)"></i>
<i style="top:264px;background:linear-gradient(90deg,#cbcbcb 0px,#cfcfcf 35px,#d2d2d2 70px,#d6d6d6 105px,#d9d9d9 140px,#dcdcdc 175px,#dedede 210px,#e1e1e1 245px,#e3e3e3 280px,#e6e6e6 315px,#e8e8e8 350px,#eaeaea 385px,#ececec 420px,#ededed 455px,#efefef 490px,#f0f0f0 525px,#f2f2f2 560px,#f3f3f3 595px,#f4f4f4 630px,#f5f5f5 665px,#f6f6f6 700px,#f6f6f6 735px,#f7f7f7 770px,#f8f8f8 805px,#f8f8f8 875px,#f9f9f9 910px,#f9f9f9 1015px,#f8f8f8 1050px,#f8f8f8 1120px,#f7f7f7 1155px,#f6f6f6 1190px,#f6f6f6 1225px,#f5f5f5 1260px,#f4f4f4 1295px,#f3f3f3 1330px,#f2f2f2 1365px,#f0f0f0 1400px,#efefef 1435px,#ededed 1470px,#ececec 1505px,#eaeaea 1540px,#e8e8e8 1575px,#e6e6e6 1610px,#e3e3e3 1645px,#e1e1e1 1680px,#dedede 1715px,#dcdcdc 1750px,#d9d9d9 1785px,#d6d6d6 1820px,#d2d2d2 1855px,#cfcfcf 1890px,#cbcbcb 1925px)"></i>
<i style="top:272px;background:linear-gradient(90deg,#cbcbcb 0px,#cfcfcf 35px,#d2d2d2 70px,#d6d6d6 105px,#d9d9d9 140px,#dcdcdc 175px,#dedede 210px,#e1e1e1 245px,#e3e3e3 280px,#e5e5e5 315px,#e8e8e8 350px,#e9e9e9 385px,#ebebeb 420px,#ededed 455px,#efefef 490px,#f0f0f0 525px,#f1f1f1 560px,#f2f2f2 595px,#f4f4f4 630px,#f5f5f5 665px,#f5f5f5 700px,#f6f6f6 735px,#f7f7f7 770px,#f7f7f7 805px,#f8f8f8 840px,#f8f8f8 1085px,#f7f7f7 1120px,#f7f7f7 1155px,#f6f6f6 1190px,#f5f5f5 1225px,#f5f5f5 1260px,#f4f4f4 1295px,#f2f2f2 1330px,#f1f1f1 1365px,#f0f0f0 1400px,#efefef 1435px,#ededed 1470px,#ebebeb 1505px,#e9e9e9 1540px,#e8e8e8 1575px,#e5e5e5 1610px,#e3e3e3 1645px,#e1e1e1 1680px,#dedede 1715px,#dcdcdc 1750px,#d9d9d9 1785px,#d6d6d6 1820px,#d2d2d2 1855px,#cfcfcf 1890px,#cbcbcb 1925px)"></i>
<i style="top:280px;background:linear-gradient(90deg,#cbcbcb 0px,#cfcfcf 35px,#d2d2d2 70px,#d6d6d6 105px,#d9d9d9 140px,#dcdcdc 175px,#dedede 210px,#e1e1e1 245px,#e3e3e3 280px,#e5e5e5 315px,#e7e7e7 350px,#e9e9e9 385px,#ebebeb 420px,#ededed 455px,#eeeeee 490px,#f0f0f0 525px,#f1f1f1 560px,#f2f2f2 595px,#f3f3f3 630px,#f4f4f4 665px,#f5f5f5 700px,#f6f6f6 735px,#f6f6f6 770px,#f7f7f7 805px,#f7f7f7 840px,#f8f8f8 875px,#f8f8f8 1050px,#f7f7f7 1085px,#f7f7f7 1120px,#f6f6f6 1155px,#f6f6f6 1190px,#f5f5f5 1225px,#f4f4f4 1260px,#f3f3f3 1295px,#f2f2f2 1330px,#f1f1f1 1365px,#f0f0f0 1400px,#eeeeee 1435px,#ededed 1470px,#ebebeb 1505px,#e9e9e9 1540px,#e7e7e7 1575px,#e5e5e5 1610px,#e3e3e3 1645px,#e1e1e1 1680px,#dedede 1715px,#dcdcdc 1750px,#d9d9d9 1785px,#d6d6d6 1820px,#d2d2d2 1855px,#cfcfcf 1890px,#cbcbcb 1925px)"></i>
<i style="top:288px;background:linear-gradient(90deg,#cccccc 0px,#cfcfcf 35px,#d2d2d2 70px,#d6d6d6 105px,#d9d9d9 140px,#dbdbdb 175px,#dedede 210px,#e1e1e1 245px,#e3e3e3 280px,#e5e5e5 315px,#e7e7e7 350px,#e9e9e9 385px,#ebebeb 420px,#ececec 455px,#eeeeee 490px,#efefef 525px,#f1f1f1 560px,#f2f2f2 595px,#f3f3f3 630px,#f4f4f4 665px,#f5f5f5 700px,#f5f5f5 735px,#f6f6f6 770px,#f7f7f7 805px,#f7f7f7 875px,#f8f8f8 910px,#f8f8f8 1015px,#f7f7f7 1050px,#f7f7f7 1120px,#f6f6f6 1155px,#f5f5f5 1190px,#f5f5f5 1225px,#f4f4f4 1260px,#f3f3f3 1295px,#f2f2f2 1330px,#f1f1f1 1365px,#efefef 1400px,#eeeeee 1435px,#ececec 1470px,#ebebeb 1505px,#e9e9e9 1540px,#e7e7e7 1575px,#e5e5e5 1610px,#e3e3e3 1645px,#e1e1e1 1680px,#dedede 1715px,#dbdbdb 1750px,#d9d9d9 1785px,#d6d6d6 1820px,#d2d2d2 1855px,#cfcfcf 1890px,#cccccc 1925px)"></i>
<i style="top:296px;background:linear-gradient(90deg,#cccccc 0px,#cfcfcf 35px,#d2d2d2 70px,#d6d6d6 105px,#d9d9d9 140px,#dbdbdb 175px,#dedede 210px,#e0e0e0 245px,#e3e3e3 280px,#e5e5e5 315px,#e7e7e7 350px,#e9e9e9 385px,#ebebeb 420px,#ececec 455px,#eeeeee 490px,#efefef 525px,#f0f0f0 560px,#f2f2f2 595px,#f3f3f3 630px,#f4f4f4 665px,#f4f4f4 700px,#f5f5f5 735px,#f6f6f6 770px,#f6f6f6 805px,#f7f7f7 840px,#f7f7f7 1085px,#f6f6f6 1120px,#f6f6f6 1155px,#f5f5f5 1190px,#f4f4f4 1225px,#f4f4f4 1260px,#f3f3f3 1295px,#f2f2f2 1330px,#f0f0f0 1365px,#efefef 1400px,#eeeeee 1435px,#ececec 1470px,#ebebeb 1505px,#e9e9e9 1540px,#e7e7e7 1575px,#e5e5e5 1610px,#e3e3e3 1645px,#e0e0e0 1680px,#dedede 1715px,#dbdbdb 1750px,#d9d9d9 1785px,#d6d6d6 1820px,#d2d2d2 1855px,#cfcfcf 1890px,#cccccc 1925px)"></i>
<i style="top:304px;background:linear-gradient(90deg,#cccccc 0px,#cfcfcf 35px,#d2d2d2 70px,#d5d5d5 105px,#d8d8d8 140px,#dbdbdb 175px,#dedede 210px,#e0e0e0 245px,#e2e2e2 280px,#e5e5e5 315px,#e7e7e7 350px,#e9e9e9 385px,#eaeaea 420px,#ececec 455px,#ededed 490px,#efefef 525px,#f0f0f0 560px,#f1f1f1 595px,#f2f2f2 630px,#f3f3f3 665px,#f4f4f4 700px,#f5f5f5 735px,#f5f5f5 770px,#f6f6f6 805px,#f6f6f6 840px,#f7f7f7 875px,#f7f7f7 1050px,#f6f6f6 1085px,#f6f6f6 1120px,#f5f5f5 1155px,#f5f5f5 1190px,#f4f4f4 1225px,#f3f3f3 1260px,#f2f2f2 1295px,#f1f1f1 1330px,#f0f0f0 1365px,#efefef 1400px,#ededed 1435px,#ececec 1470px,#eaeaea 1505px,#e9e9e9 1540px,#e7e7e7 1575px,#e5e5e5 1610px,#e2e2e2 1645px,#e0e0e0 1680px,#dedede 1715px,#dbdbdb 1750px,#d8d8d8 1785px,#d5d5d5 1820px,#d2d2d2 1855px,#cfcfcf 1890px,#cccccc 1925px)"></i>
<i style="top:312px;background:linear-gradient(90deg,#cccccc 0px,#cfcfcf 35px,#d2d2d2 70px,#d5d5d5 105px,#d8d8d8 140px,#dbdbdb 175px,#dedede 210px,#e0e0e0 245px,#e2e2e2 280px,#e4e4e4 315px,#e6e6e6 350px,#e8e8e8 385px,#eaeaea 420px,#ececec 455px,#ededed 490px,#efefef 525px,#f0f0f0 560px,#f1f1f1 595px,#f2f2f2 630px,#f3f3f3 665px,#f4f4f4 700px,#f4f4f4 735px,#f5f5f5 770px,#f6f6f6 805px,#f6f6f6 875px,#f7f7f7 910px,#f7f7f7 1015px,#f6f6f6 1050px,#f6f6f6 1120px,#f5f5f5 1155px,#f4f4f4 1190px,#f4f4f4 1225px,#f3f3f3 1260px,#f2f2f2 1295px,#f1f1f1 1330px,#f0f0f0 1365px,#efefef 1400px,#ededed 1435px,#ececec 1470px,#eaeaea 1505px,#e8e8e8 1540px,#e6e6e6 1575px,#e4e4e4 1610px,#e2e2e2 1645px,#e0e0e0 1680px,#dedede 1715px,#dbdbdb 1750px,#d8d8d8 1785px,#d5d5d5 1820px,#d2d2d2 1855px,#cfcfcf 1890px,#cccccc 1925px)"></i>
<i style="top:320px;background:linear-gradient(90deg,#cccccc 0px,#cfcfcf 35px,#d2d2d2 70px,#d5d5d5 105px,#d8d8d8 140px,#dbdbdb 175px,#dddddd 210px,#e0e0e0 245px,#e2e2e2 280px,#e4e4e4 315px,#e6e6e6 350px,#e8e8e8 385px,#eaeaea 420px,#ebebeb 455px,#ededed 490px,#eeeeee 525px,#f0f0f0 560px,#f1f1f1 595px,#f2f2f2 630px,#f3f3f3 665px,#f3f3f3 700px,#f4f4f4 735px,#f5f5f5 770px,#f5f5f5 805px,#f6f6f6 840px,#f6f6f6 1085px,#f5f5f5 1120px,#f5f5f5 1155px,#f4f4f4 1190px,#f3f3f3 1225px,#f3f3f3 1260px,#f2f2f2 1295px,#f1f1f1 1330px,#f0f0f0 1365px,#eeeeee 1400px,#ededed 1435px,#ebebeb 1470px,#eaeaea 1505px,#e8e8e8 1540px,#e6e6e6 1575px,#e4e4e4 1610px,#e2e2e2 1645px,#e0e0e0 1680px,#dddddd 1715px,#dbdbdb 1750px,#d8d8d8 1785px,#d5d5d5 1820px,#d2d2d2 1855px,#cfcfcf 1890px,#cccccc 1925px)"></i>
<i style="top:328px;background:linear-gradient(90deg,#cccccc 0px,#cfcfcf 35px,#d2d2d2 70px,#d5d5d5 105px,#d8d8d8 140px,#dbdbdb 175px,#dddddd 210px,#e0e0e0 245px,#e2e2e2 280px,#e4e4e4 315px,#e6e6e6 350px,#e8e8e8 385px,#eaeaea 420px,#ebebeb 455px,#ededed 490px,#eeeeee 525px,#efefef 560px,#f0f0f0 595px,#f1f1f1 630px,#f2f2f2 665px,#f3f3f3 700px,#f4f4f4 735px,#f4f4f4 770px,#f5f5f5 805px,#f5f5f5 840px,#f6f6f6 875px,#f6f6f6 1050px,#f5f5f5 1085px,#f5f5f5 1120px,#f4f4f4 1155px,#f4f4f4 1190px,#f3f3f3 1225px,#f2f2f2 1260px,#f1f1f1 1295px,#f0f0f0 1330px,#efefef 1365px,#eeeeee 1400px,#ededed 1435px,#ebebeb 1470px,#eaeaea 1505px,#e8e8e8 1540px,#e6e6e6 1575px,#e4e4e4 1610px,#e2e2e2 1645px,#e0e0e0 1680px,#dddddd 1715px,#dbdbdb 1750px,#d8d8d8 1785px,#d5d5d5 1820px,#d2d2d2 1855px,#cfcfcf 1890px,#cccccc 1925px)"></i>
<i style="top:336px;background:linear-gradient(90deg,#cccccc 0px,#cfcfcf 35px,#d2d2d2 70px,#d5d5d5 105px,#d8d8d8 140px,#dbdbdb 175px,#dddddd 210px,#e0e0e0 245px,#e2e2e2 280px,#e4e4e4 315px,#e6e6e6 350px,#e8e8e8 385px,#e9e9e9 420px,#ebebeb 455px,#ececec 490px,#eeeeee 525px,#efefef 560px,#f0f0f0 595px,#f1f1f1 630px,#f2f2f2 665px,#f3f3f3 700px,#f4f4f4 735px,#f4f4f4 770px,#f5f5f5 805px,#f5f5f5 875px,#f6f6f6 910px,#f6f6f6 1015px,#f5f5f5 1050px,#f5f5f5 1120px,#f4f4f4 1155px,#f4f4f4 1190px,#f3f3f3 1225px,#f2f2f2 1260px,#f1f1f1 1295px,#f0f0f0 1330px,#efefef 1365px,#eeeeee 1400px,#ececec 1435px,#ebebeb 1470px,#e9e9e9 1505px,#e8e8e8 1540px,#e6e6e6 1575px,#e4e4e4 1610px,#e2e2e2 1645px,#e0e0e0 1680px,#dddddd 1715px,#dbdbdb 1750px,#d8d8d8 1785px,#d5d5d5 1820px,#d2d2d2 1855px,#cfcfcf 1890px,#cccccc 1925px)"></i>
<i style="top:344px;background:linear-gradient(90deg,#cccccc 0px,#cfcfcf 35px,#d2d2d2 70px,#d5d5d5 105px,#d8d8d8 140px,#dbdbdb 175px,#dddddd 210px,#dfdfdf 245px,#e2e2e2 280px,#e4e4e4 315px,#e6e6e6 350px,#e7e7e7 385px,#e9e9e9 420px,#ebebeb 455px,#ececec 490px,#ededed 525px,#efefef 560px,#f0f0f0 595px,#f1f1f1 630px,#f2f2f2 665px,#f2f2f2 700px,#f3f3f3 735px,#f4f4f4 770px,#f4f4f4 805px,#f5f5f5 840px,#f5f5f5 1085px,#f4f4f4 1120px,#f4f4f4 1155px,#f3f3f3 1190px,#f2f2f2 1225px,#f2f2f2 1260px,#f1f1f1 1295px,#f0f0f0 1330px,#efefef 1365px,#ededed 1400px,#ececec 1435px,#ebebeb 1470px,#e9e9e9 1505px,#e7e7e7 1540px,#e6e6e6 1575px,#e4e4e4 1610px,#e2e2e2 1645px,#dfdfdf 1680px,#dddddd 1715px,#dbdbdb 1750px,#d8d8d8 1785px,#d5d5d5 1820px,#d2d2d2 1855px,#cfcfcf 1890px,#cccccc 1925px)"></i>
<i style="top:352px;background:linear-gradient(90deg,#cccccc 0px,#cfcfcf 35px,#d2d2d2 70px,#d5d5d5 105px,#d8d8d8 140px,#dadada 175px,#dddddd 210px,#dfdfdf 245px,#e1e1e1 280px,#e3e3e3 315px,#e5e5e5 350px,#e7e7e7 385px,#e9e9e9 420px,#eaeaea 455px,#ececec 490px,#ededed 525px,#eeeeee 560px,#efefef 595px,#f0f0f0 630px,#f1f1f1 665px,#f2f2f2 700px,#f3f3f3 735px,#f3f3f3 770px,#f4f4f4 805px,#f4f4f4 840px,#f5f5f5 875px,#f5f5f5 1050px,#f4f4f4 1085px,#f4f4f4 1120px,#f3f3f3 1155px,#f3f3f3 1190px,#f2f2f2 1225px,#f1f1f1 1260px,#f0f0f0 1295px,#efefef 1330px,#eeeeee 1365px,#ededed 1400px,#ececec 1435px,#eaeaea 1470px,#e9e9e9 1505px,#e7e7e7 1540px,#e5e5e5 1575px,#e3e3e3 1610px,#e1e1e1 1645px,#dfdfdf 1680px,#dddddd 1715px,#dadada 1750px,#d8d8d8 1785px,#d5d5d5 1820px,#d2d2d2 1855px,#cfcfcf 1890px,#cccccc 1925px)"></i>
<i style="top:360px;background:linear-gradient(90deg,#cccccc 0px,#cfcfcf 35px,#d2d2d2 70px,#d5d5d5 105px,#d8d8d8 140px,#dadada 175px,#dddddd 210px,#dfdfdf 245px,#e1e1e1 280px,#e3e3e3 315px,#e5e5e5 350px,#e7e7e7 385px,#e9e9e9 420px,#eaeaea 455px,#ececec 490px,#ededed 525px,#eeeeee 560px,#efefef 595px,#f0f0f0 630px,#f1f1f1 665px,#f2f2f2 700px,#f3f3f3 735px,#f3f3f3 770px,#f4f4f4 805px,#f4f4f4 910px,#f5f5f5 945px,#f5f5f5 980px,#f4f4f4 1015px,#f4f4f4 1120px,#f3f3f3 1155px,#f3f3f3 1190px,#f2f2f2 1225px,#f1f1f1 1260px,#f0f0f0 1295px,#efefef 1330px,#eeeeee 1365px,#ededed 1400px,#ececec 1435px,#eaeaea 1470px,#e9e9e9 1505px,#e7e7e7 1540px,#e5e5e5 1575px,#e3e3e3 1610px,#e1e1e1 1645px,#dfdfdf 1680px,#dddddd 1715px,#dadada 1750px,#d8d8d8 1785px,#d5d5d5 1820px,#d2d2d2 1855px,#cfcfcf 1890px,#cccccc 1925px)"></i>
<i style="top:368px;background:linear-gradient(90deg,#cccccc 0px,#cfcfcf 35px,#d2d2d2 70px,#d5d5d5 105px,#d8d8d8 140px,#dadada 175px,#dddddd 210px,#dfdfdf 245px,#e1e1e1 280px,#e3e3e3 315px,#e5e5e5 350px,#e7e7e7 385px,#e8e8e8 420px,#eaeaea 455px,#ebebeb 490px,#ededed 525px,#eeeeee 560px,#efefef 595px,#f0f0f0 630px,#f1f1f1 665px,#f2f2f2 700px,#f2f2f2 735px,#f3f3f3 770px,#f3f3f3 805px,#f4f4f4 840px,#f4f4f4 1085px,#f3f3f3 1120px,#f3f3f3 1155px,#f2f2f2 1190px,#f2f2f2 1225px,#f1f1f1 1260px,#f0f0f0 1295px,#efefef 1330px,#eeeeee 1365px,#ededed 1400px,#ebebeb 1435px,#eaeaea 1470px,#e8e8e8 1505px,#e7e7e7 1540px,#e5e5e5 1575px,#e3e3e3 1610px,#e1e1e1 1645px,#dfdfdf 1680px,#dddddd 1715px,#dadada 1750px,#d8d8d8 1785px,#d5d5d5 1820px,#d2d2d2 1855px,#cfcfcf 1890px,#cccccc 1925px)"></i>
<i style="top:376px;background:linear-gradient(90deg,#cccccc 0px,#cfcfcf 35px,#d2d2d2 70px,#d5d5d5 105px,#d7d7d7 140px,#dadada 175px,#dcdcdc 210px,#dfdfdf 245px,#e1e1e1 280px,#e3e3e3 315px,#e5e5e5 350px,#e6e6e6 385px,#e8e8e8 420px,#eaeaea 455px,#ebebeb 490px,#ececec 525px,#ededed 560px,#efefef 595px,#f0f0f0 630px,#f0f0f0 665px,#f1f1f1 700px,#f2f2f2 735px,#f2f2f2 770px,#f3f3f3 805px,#f3f3f3 840px,#f4f4f4 875px,#f4f4f4 1050px,#f3f3f3 1085px,#f3f3f3 1120px,#f2f2f2 1155px,#f2f2f2 1190px,#f1f1f1 1225px,#f0f0f0 1260px,#f0f0f0 1295px,#efefef 1330px,#ededed 1365px,#ececec 1400px,#ebebeb 1435px,#eaeaea 1470px,#e8e8e8 1505px,#e6e6e6 1540px,#e5e5e5 1575px,#e3e3e3 1610px,#e1e1e1 1645px,#dfdfdf 1680px,#dcdcdc 1715px,#dadada 1750px,#d7d7d7 1785px,#d5d5d5 1820px,#d2d2d2 1855px,#cfcfcf 1890px,#cccccc 1925px)"></i>
<i style="top:384px;background:linear-gradient(90deg,#cccccc 0px,#cfcfcf 35px,#d2d2d2 70px,#d5d5d5 105px,#d7d7d7 140px,#dadada 175px,#dcdcdc 210px,#dedede 245px,#e1e1e1 280px,#e3e3e3 315px,#e4e4e4 350px,#e6e6e6 385px,#e8e8e8 420px,#e9e9e9 455px,#ebebeb 490px,#ececec 525px,#ededed 560px,#eeeeee 595px,#efefef 630px,#f0f0f0 665px,#f1f1f1 700px,#f2f2f2 735px,#f2f2f2 770px,#f3f3f3 805px,#f3f3f3 910px,#f4f4f4 945px,#f4f4f4 980px,#f3f3f3 1015px,#f3f3f3 1120px,#f2f2f2 1155px,#f2f2f2 1190px,#f1f1f1 1225px,#f0f0f0 1260px,#efefef 1295px,#eeeeee 1330px,#ededed 1365px,#ececec 1400px,#ebebeb 1435px,#e9e9e9 1470px,#e8e8e8 1505px,#e6e6e6 1540px,#e4e4e4 1575px,#e3e3e3 1610px,#e1e1e1 1645px,#dedede 1680px,#dcdcdc 1715px,#dadada 1750px,#d7d7d7 1785px,#d5d5d5 1820px,#d2d2d2 1855px,#cfcfcf 1890px,#cccccc 1925px)"></i>
<i style="top:392px;background:linear-gradient(90deg,#cccccc 0px,#cfcfcf 35px,#d2d2d2 70px,#d5d5d5 105px,#d7d7d7 140px,#dadada 175px,#dcdcdc 210px,#dedede 245px,#e0e0e0 280px,#e2e2e2 315px,#e4e4e4 350px,#e6e6e6 385px,#e8e8e8 420px,#e9e9e9 455px,#eaeaea 490px,#ececec 525px,#ededed 560px,#eeeeee 595px,#efefef 630px,#f0f0f0 665px,#f1f1f1 700px,#f1f1f1 735px,#f2f2f2 770px,#f2f2f2 805px,#f3f3f3 840px,#f3f3f3 1085px,#f2f2f2 1120px,#f2f2f2 1155px,#f1f1f1 1190px,#f1f1f1 1225px,#f0f0f0 1260px,#efefef 1295px,#eeeeee 1330px,#ededed 1365px,#ececec 1400px,#eaeaea 1435px,#e9e9e9 1470px,#e8e8e8 1505px,#e6e6e6 1540px,#e4e4e4 1575px,#e2e2e2 1610px,#e0e0e0 1645px,#dedede 1680px,#dcdcdc 1715px,#dadada 1750px,#d7d7d7 1785px,#d5d5d5 1820px,#d2d2d2 1855px,#cfcfcf 1890px,#cccccc 1925px)"></i>
<i style="top:400px;background:linear-gradient(90deg,#cccccc 0px,#cfcfcf 35px,#d2d2d2 70px,#d4d4d4 105px,#d7d7d7 140px,#dadada 175px,#dcdcdc 210px,#dedede 245px,#e0e0e0 280px,#e2e2e2 315px,#e4e4e4 350px,#e6e6e6 385px,#e7e7e7 420px,#e9e9e9 455px,#eaeaea 490px,#ebebeb 525px,#ededed 560px,#eeeeee 595px,#efefef 630px,#efefef 665px,#f0f0f0 700px,#f1f1f1 735px,#f1f1f1 770px,#f2f2f2 805px,#f2f2f2 840px,#f3f3f3 875px,#f3f3f3 1050px,#f2f2f2 1085px,#f2f2f2 1120px,#f1f1f1 1155px,#f1f1f1 1190px,#f0f0f0 1225px,#efefef 1260px,#efefef 1295px,#eeeeee 1330px,#ededed 1365px,#ebebeb 1400px,#eaeaea 1435px,#e9e9e9 1470px,#e7e7e7 1505px,#e6e6e6 1540px,#e4e4e4 1575px,#e2e2e2 1610px,#e0e0e0 1645px,#dedede 1680px,#dcdcdc 1715px,#dadada 1750px,#d7d7d7 1785px,#d4d4d4 1820px,#d2d2d2 1855px,#cfcfcf 1890px,#cccccc 1925px)"></i>
<i style="top:408px;background:linear-gradient(90deg,#cccccc 0px,#cfcfcf 35px,#d2d2d2 70px,#d4d4d4 105px,#d7d7d7 140px,#d9d9d9 175px,#dcdcdc 210px,#dedede 245px,#e0e0e0 280px,#e2e2e2 315px,#e4e4e4 350px,#e5e5e5 385px,#e7e7e7 420px,#e8e8e8 455px,#eaeaea 490px,#ebebeb 525px,#ececec 560px,#ededed 595px,#eeeeee 630px,#efefef 665px,#f0f0f0 700px,#f1f1f1 735px,#f1f1f1 770px,#f2f2f2 805px,#f2f2f2 910px,#f3f3f3 945px,#f3f3f3 980px,#f2f2f2 1015px,#f2f2f2 1120px,#f1f1f1 1155px,#f1f1f1 1190px,#f0f0f0 1225px,#efefef 1260px,#eeeeee 1295px,#ededed 1330px,#ececec 1365px,#ebebeb 1400px,#eaeaea 1435px,#e8e8e8 1470px,#e7e7e7 1505px,#e5e5e5 1540px,#e4e4e4 1575px,#e2e2e2 1610px,#e0e0e0 1645px,#dedede 1680px,#dcdcdc 1715px,#d9d9d9 1750px,#d7d7d7 1785px,#d4d4d4 1820px,#d2d2d2 1855px,#cfcfcf 1890px,#cccccc 1925px)"></i>
<i style="top:416px;background:linear-gradient(90deg,#cccccc 0px,#cfcfcf 35px,#d1d1d1 70px,#d4d4d4 105px,#d7d7d7 140px,#d9d9d9 175px,#dcdcdc 210px,#dedede 245px,#e0e0e0 280px,#e2e2e2 315px,#e3e3e3 350px,#e5e5e5 385px,#e7e7e7 420px,#e8e8e8 455px,#eaeaea 490px,#ebebeb 525px,#ececec 560px,#ededed 595px,#eeeeee 630px,#efefef 665px,#f0f0f0 700px,#f0f0f0 735px,#f1f1f1 770px,#f1f1f1 805px,#f2f2f2 840px,#f2f2f2 1085px,#f1f1f1 1120px,#f1f1f1 1155px,#f0f0f0 1190px,#f0f0f0 1225px,#efefef 1260px,#eeeeee 1295px,#ededed 1330px,#ececec 1365px,#ebebeb 1400px,#eaeaea 1435px,#e8e8e8 1470px,#e7e7e7 1505px,#e5e5e5 1540px,#e3e3e3 1575px,#e2e2e2 1610px,#e0e0e0 1645px,#dedede 1680px,#dcdcdc 1715px,#d9d9d9 1750px,#d7d7d7 1785px,#d4d4d4 1820px,#d1d1d1 1855px,#cfcfcf 1890px,#cccccc 1925px)"></i>
<i style="top:424px;background:linear-gradient(90deg,#cccccc 0px,#cfcfcf 35px,#d1d1d1 70px,#d4d4d4 105px,#d7d7d7 140px,#d9d9d9 175px,#dbdbdb 210px,#dddddd 245px,#e0e0e0 280px,#e1e1e1 315px,#e3e3e3 350px,#e5e5e5 385px,#e6e6e6 420px,#e8e8e8 455px,#e9e9e9 490px,#ebebeb 525px,#ececec 560px,#ededed 595px,#eeeeee 630px,#eeeeee 665px,#efefef 700px,#f0f0f0 735px,#f0f0f0 770px,#f1f1f1 805px,#f1f1f1 840px,#f2f2f2 875px,#f2f2f2 1050px,#f1f1f1 1085px,#f1f1f1 1120px,#f0f0f0 1155px,#f0f0f0 1190px,#efefef 1225px,#eeeeee 1260px,#eeeeee 1295px,#ededed 1330px,#ececec 1365px,#ebebeb 1400px,#e9e9e9 1435px,#e8e8e8 1470px,#e6e6e6 1505px,#e5e5e5 1540px,#e3e3e3 1575px,#e1e1e1 1610px,#e0e0e0 1645px,#dddddd 1680px,#dbdbdb 1715px,#d9d9d9 1750px,#d7d7d7 1785px,#d4d4d4 1820px,#d1d1d1 1855px,#cfcfcf 1890px,#cccccc 1925px)"></i>
<i style="top:432px;background:linear-gradient(90deg,#cbcbcb 0px,#cecece 35px,#d1d1d1 70px,#d4d4d4 105px,#d6d6d6 140px,#d9d9d9 175px,#dbdbdb 210px,#dddddd 245px,#dfdfdf 280px,#e1e1e1 315px,#e3e3e3 350px,#e5e5e5 385px,#e6e6e6 420px,#e8e8e8 455px,#e9e9e9 490px,#eaeaea 525px,#ebebeb 560px,#ececec 595px,#ededed 630px,#eeeeee 665px,#efefef 700px,#f0f0f0 735px,#f0f0f0 770px,#f1f1f1 805px,#f1f1f1 910px,#f2f2f2 945px,#f2f2f2 980px,#f1f1f1 1015px,#f1f1f1 1120px,#f0f0f0 1155px,#f0f0f0 1190px,#efefef 1225px,#eeeeee 1260px,#ededed 1295px,#ececec 1330px,#ebebeb 1365px,#eaeaea 1400px,#e9e9e9 1435px,#e8e8e8 1470px,#e6e6e6 1505px,#e5e5e5 1540px,#e3e3e3 1575px,#e1e1e1 1610px,#dfdfdf 1645px,#dddddd 1680px,#dbdbdb 1715px,#d9d9d9 1750px,#d6d6d6 1785px,#d4d4d4 1820px,#d1d1d1 1855px,#cecece 1890px,#cbcbcb 1925px)"></i>
<i style="top:440px;background:linear-gradient(90deg,#cbcbcb 0px,#cecece 35px,#d1d1d1 70px,#d4d4d4 105px,#d6d6d6 140px,#d9d9d9 175px,#dbdbdb 210px,#dddddd 245px,#dfdfdf 280px,#e1e1e1 315px,#e3e3e3 350px,#e4e4e4 385px,#e6e6e6 420px,#e7e7e7 455px,#e9e9e9 490px,#eaeaea 525px,#ebebeb 560px,#ececec 595px,#ededed 630px,#eeeeee 665px,#efefef 700px,#efefef 735px,#f0f0f0 770px,#f0f0f0 805px,#f1f1f1 840px,#f1f1f1 1085px,#f0f0f0 1120px,#f0f0f0 1155px,#efefef 1190px,#efefef 1225px,#eeeeee 1260px,#ededed 1295px,#ececec 1330px,#ebebeb 1365px,#eaeaea 1400px,#e9e9e9 1435px,#e7e7e7 1470px,#e6e6e6 1505px,#e4e4e4 1540px,#e3e3e3 1575px,#e1e1e1 1610px,#dfdfdf 1645px,#dddddd 1680px,#dbdbdb 1715px,#d9d9d9 1750px,#d6d6d6 1785px,#d4d4d4 1820px,#d1d1d1 1855px,#cecece 1890px,#cbcbcb 1925px)"></i>
<i style="top:448px;background:linear-gradient(90deg,#cbcbcb 0px,#cecece 35px,#d1d1d1 70px,#d4d4d4 105px,#d6d6d6 140px,#d9d9d9 175px,#dbdbdb 210px,#dddddd 245px,#dfdfdf 280px,#e1e1e1 315px,#e2e2e2 350px,#e4e4e4 385px,#e6e6e6 420px,#e7e7e7 455px,#e8e8e8 490px,#eaeaea 525px,#ebebeb 560px,#ececec 595px,#ededed 630px,#eeeeee 665px,#eeeeee 700px,#efefef 735px,#efefef 770px,#f0f0f0 805px,#f0f0f0 840px,#f1f1f1 875px,#f1f1f1 1050px,#f0f0f0 1085px,#f0f0f0 1120px,#efefef 1155px,#efefef 1190px,#eeeeee 1225px,#eeeeee 1260px,#ededed 1295px,#ececec 1330px,#ebebeb 1365px,#eaeaea 1400px,#e8e8e8 1435px,#e7e7e7 1470px,#e6e6e6 1505px,#e4e4e4 1540px,#e2e2e2 1575px,#e1e1e1 1610px,#dfdfdf 1645px,#dddddd 1680px,#dbdbdb 1715px,#d9d9d9 1750px,#d6d6d6 1785px,#d4d4d4 1820px,#d1d1d1 1855px,#cecece 1890px,#cbcbcb 1925px)"></i>
<i style="top:456px;background:linear-gradient(90deg,#cbcbcb 0px,#cecece 35px,#d1d1d1 70px,#d4d4d4 105px,#d6d6d6 140px,#d8d8d8 175px,#dbdbdb 210px,#dddddd 245px,#dfdfdf 280px,#e0e0e0 315px,#e2e2e2 350px,#e4e4e4 385px,#e5e5e5 420px,#e7e7e7 455px,#e8e8e8 490px,#e9e9e9 525px,#eaeaea 560px,#ebebeb 595px,#ececec 630px,#ededed 665px,#eeeeee 700px,#efefef 735px,#efefef 770px,#f0f0f0 805px,#f0f0f0 1120px,#efefef 1155px,#efefef 1190px,#eeeeee 1225px,#ededed 1260px,#ececec 1295px,#ebebeb 1330px,#eaeaea 1365px,#e9e9e9 1400px,#e8e8e8 1435px,#e7e7e7 1470px,#e5e5e5 1505px,#e4e4e4 1540px,#e2e2e2 1575px,#e0e0e0 1610px,#dfdfdf 1645px,#dddddd 1680px,#dbdbdb 1715px,#d8d8d8 1750px,#d6d6d6 1785px,#d4d4d4 1820px,#d1d1d1 1855px,#cecece 1890px,#cbcbcb 1925px)"></i>
<i style="top:464px;background:linear-gradient(90deg,#cbcbcb 0px,#cecece 35px,#d1d1d1 70px,#d3d3d3 105px,#d6d6d6 140px,#d8d8d8 175px,#dadada 210px,#dcdcdc 245px,#dedede 280px,#e0e0e0 315px,#e2e2e2 350px,#e4e4e4 385px,#e5e5e5 420px,#e7e7e7 455px,#e8e8e8 490px,#e9e9e9 525px,#eaeaea 560px,#ebebeb 595px,#ececec 630px,#ededed 665px,#eeeeee 700px,#eeeeee 735px,#efefef 770px,#efefef 805px,#f0f0f0 840px,#f0f0f0 1085px,#efefef 1120px,#efefef 1155px,#eeeeee 1190px,#eeeeee 1225px,#ededed 1260px,#ececec 1295px,#ebebeb 1330px,#eaeaea 1365px,#e9e9e9 1400px,#e8e8e8 1435px,#e7e7e7 1470px,#e5e5e5 1505px,#e4e4e4 1540px,#e2e2e2 1575px,#e0e0e0 1610px,#dedede 1645px,#dcdcdc 1680px,#dadada 1715px,#d8d8d8 1750px,#d6d6d6 1785px,#d3d3d3 1820px,#d1d1d1 1855px,#cecece 1890px,#cbcbcb 1925px)"></i>
<i style="top:472px;background:linear-gradient(90deg,#cbcbcb 0px,#cecece 35px,#d1d1d1 70px,#d3d3d3 105px,#d6d6d6 140px,#d8d8d8 175px,#dadada 210px,#dcdcdc 245px,#dedede 280px,#e0e0e0 315px,#e2e2e2 350px,#e3e3e3 385px,#e5e5e5 420px,#e6e6e6 455px,#e8e8e8 490px,#e9e9e9 525px,#eaeaea 560px,#ebebeb 595px,#ececec 630px,#ededed 665px,#ededed 700px,#eeeeee 735px,#eeeeee 770px,#efefef 805px,#efefef 840px,#f0f0f0 875px,#f0f0f0 1050px,#efefef 1085px,#efefef 1120px,#eeeeee 1155px,#eeeeee 1190px,#ededed 1225px,#ededed 1260px,#ececec 1295px,#ebebeb 1330px,#eaeaea 1365px,#e9e9e9 1400px,#e8e8e8 1435px,#e6e6e6 1470px,#e5e5e5 1505px,#e3e3e3 1540px,#e2e2e2 1575px,#e0e0e0 1610px,#dedede 1645px,#dcdcdc 1680px,#dadada 1715px,#d8d8d8 1750px,#d6d6d6 1785px,#d3d3d3 1820px,#d1d1d1 1855px,#cecece 1890px,#cbcbcb 1925px)"></i>
<i style="top:480px;background:linear-gradient(90deg,#cbcbcb 0px,#cecece 35px,#d1d1d1 70px,#d3d3d3 105px,#d6d6d6 140px,#d8d8d8 175px,#dadada 210px,#dcdcdc 245px,#dedede 280px,#e0e0e0 315px,#e1e1e1 350px,#e3e3e3 385px,#e5e5e5 420px,#e6e6e6 455px,#e7e7e7 490px,#e8e8e8 525px,#eaeaea 560px,#ebebeb 595px,#ebebeb 630px,#ececec 665px,#ededed 700px,#eeeeee 735px,#eeeeee 770px,#efefef 805px,#efefef 1120px,#eeeeee 1155px,#eeeeee 1190px,#ededed 1225px,#ececec 1260px,#ebebeb 1295px,#ebebeb 1330px,#eaeaea 1365px,#e8e8e8 1400px,#e7e7e7 1435px,#e6e6e6 1470px,#e5e5e5 1505px,#e3e3e3 1540px,#e1e1e1 1575px,#e0e0e0 1610px,#dedede 1645px,#dcdcdc 1680px,#dadada 1715px,#d8d8d8 1750px,#d6d6d6 1785px,#d3d3d3 1820px,#d1d1d1 1855px,#cecece 1890px,#cbcbcb 1925px)"></i>
<i style="top:488px;background:linear-gradient(90deg,#cbcbcb 0px,#cecece 35px,#d0d0d0 70px,#d3d3d3 105px,#d5d5d5 140px,#d8d8d8 175px,#dadada 210px,#dcdcdc 245px,#dedede 280px,#e0e0e0 315px,#e1e1e1 350px,#e3e3e3 385px,#e4e4e4 420px,#e6e6e6 455px,#e7e7e7 490px,#e8e8e8 525px,#e9e9e9 560px,#eaeaea 595px,#ebebeb 630px,#ececec 665px,#ededed 700px,#ededed 735px,#eeeeee 770px,#eeeeee 805px,#efefef 840px,#efefef 1085px,#eeeeee 1120px,#eeeeee 1155px,#ededed 1190px,#ededed 1225px,#ececec 1260px,#ebebeb 1295px,#eaeaea 1330px,#e9e9e9 1365px,#e8e8e8 1400px,#e7e7e7 1435px,#e6e6e6 1470px,#e4e4e4 1505px,#e3e3e3 1540px,#e1e1e1 1575px,#e0e0e0 1610px,#dedede 1645px,#dcdcdc 1680px,#dadada 1715px,#d8d8d8 1750px,#d5d5d5 1785px,#d3d3d3 1820px,#d0d0d0 1855px,#cecece 1890px,#cbcbcb 1925px)"></i>
<i style="top:496px;background:linear-gradient(90deg,#cbcbcb 0px,#cecece 35px,#d0d0d0 70px,#d3d3d3 105px,#d5d5d5 140px,#d7d7d7 175px,#dadada 210px,#dcdcdc 245px,#dddddd 280px,#dfdfdf 315px,#e1e1e1 350px,#e3e3e3 385px,#e4e4e4 420px,#e5e5e5 455px,#e7e7e7 490px,#e8e8e8 525px,#e9e9e9 560px,#eaeaea 595px,#ebebeb 630px,#ececec 665px,#ececec 700px,#ededed 735px,#ededed 770px,#eeeeee 805px,#eeeeee 840px,#efefef 875px,#efefef 1050px,#eeeeee 1085px,#eeeeee 1120px,#ededed 1155px,#ededed 1190px,#ececec 1225px,#ececec 1260px,#ebebeb 1295px,#eaeaea 1330px,#e9e9e9 1365px,#e8e8e8 1400px,#e7e7e7 1435px,#e5e5e5 1470px,#e4e4e4 1505px,#e3e3e3 1540px,#e1e1e1 1575px,#dfdfdf 1610px,#dddddd 1645px,#dcdcdc 1680px,#dadada 1715px,#d7d7d7 1750px,#d5d5d5 1785px,#d3d3d3 1820px,#d0d0d0 1855px,#cecece 1890px,#cbcbcb 1925px)"></i>
<i style="top:504px;background:linear-gradient(90deg,#cbcbcb 0px,#cecece 35px,#d0d0d0 70px,#d3d3d3 105px,#d5d5d5 140px,#d7d7d7 175px,#d9d9d9 210px,#dbdbdb 245px,#dddddd 280px,#dfdfdf 315px,#e1e1e1 350px,#e2e2e2 385px,#e4e4e4 420px,#e5e5e5 455px,#e6e6e6 490px,#e8e8e8 525px,#e9e9e9 560px,#eaeaea 595px,#eaeaea 630px,#ebebeb 665px,#ececec 700px,#ededed 735px,#ededed 770px,#eeeeee 805px,#eeeeee 1120px,#ededed 1155px,#ededed 1190px,#ececec 1225px,#ebebeb 1260px,#eaeaea 1295px,#eaeaea 1330px,#e9e9e9 1365px,#e8e8e8 1400px,#e6e6e6 1435px,#e5e5e5 1470px,#e4e4e4 1505px,#e2e2e2 1540px,#e1e1e1 1575px,#dfdfdf 1610px,#dddddd 1645px,#dbdbdb 1680px,#d9d9d9 1715px,#d7d7d7 1750px,#d5d5d5 1785px,#d3d3d3 1820px,#d0d0d0 1855px,#cecece 1890px,#cbcbcb 1925px)"></i>
<i style="top:512px;background:linear-gradient(90deg,#cbcbcb 0px,#cdcdcd 35px,#d0d0d0 70px,#d3d3d3 105px,#d5d5d5 140px,#d7d7d7 175px,#d9d9d9 210px,#dbdbdb 245px,#dddddd 280px,#dfdfdf 315px,#e0e0e0 350px,#e2e2e2 385px,#e3e3e3 420px,#e5e5e5 455px,#e6e6e6 490px,#e7e7e7 525px,#e8e8e8 560px,#e9e9e9 595px,#eaeaea 630px,#ebebeb 665px,#ececec 700px,#ececec 735px,#ededed 770px,#ededed 805px,#eeeeee 840px,#eeeeee 1085px,#ededed 1120px,#ededed 1155px,#ececec 1190px,#ececec 1225px,#ebebeb 1260px,#eaeaea 1295px,#e9e9e9 1330px,#e8e8e8 1365px,#e7e7e7 1400px,#e6e6e6 1435px,#e5e5e5 1470px,#e3e3e3 1505px,#e2e2e2 1540px,#e0e0e0 1575px,#dfdfdf 1610px,#dddddd 1645px,#dbdbdb 1680px,#d9d9d9 1715px,#d7d7d7 1750px,#d5d5d5 1785px,#d3d3d3 1820px,#d0d0d0 1855px,#cdcdcd 1890px,#cbcbcb 1925px)"></i>
<i style="top:520px;background:linear-gradient(90deg,#cbcbcb 0px,#cdcdcd 35px,#d0d0d0 70px,#d2d2d2 105px,#d5d5d5 140px,#d7d7d7 175px,#d9d9d9 210px,#dbdbdb 245px,#dddddd 280px,#dfdfdf 315px,#e0e0e0 350px,#e2e2e2 385px,#e3e3e3 420px,#e5e5e5 455px,#e6e6e6 490px,#e7e7e7 525px,#e8e8e8 560px,#e9e9e9 595px,#eaeaea 630px,#ebebeb 665px,#ebebeb 700px,#ececec 735px,#ececec 770px,#ededed 805px,#ededed 840px,#eeeeee 875px,#eeeeee 1050px,#ededed 1085px,#ededed 1120px,#ececec 1155px,#ececec 1190px,#ebebeb 1225px,#ebebeb 1260px,#eaeaea 1295px,#e9e9e9 1330px,#e8e8e8 1365px,#e7e7e7 1400px,#e6e6e6 1435px,#e5e5e5 1470px,#e3e3e3 1505px,#e2e2e2 1540px,#e0e0e0 1575px,#dfdfdf 1610px,#dddddd 1645px,#dbdbdb 1680px,#d9d9d9 1715px,#d7d7d7 1750px,#d5d5d5 1785px,#d2d2d2 1820px,#d0d0d0 1855px,#cdcdcd 1890px,#cbcbcb 1925px)"></i>
<i style="top:528px;background:linear-gradient(90deg,#cbcbcb 0px,#cdcdcd 35px,#d0d0d0 70px,#d2d2d2 105px,#d5d5d5 140px,#d7d7d7 175px,#d9d9d9 210px,#dbdbdb 245px,#dddddd 280px,#dedede 315px,#e0e0e0 350px,#e1e1e1 385px,#e3e3e3 420px,#e4e4e4 455px,#e6e6e6 490px,#e7e7e7 525px,#e8e8e8 560px,#e9e9e9 595px,#eaeaea 630px,#eaeaea 665px,#ebebeb 700px,#ececec 735px,#ececec 770px,#ededed 805px,#ededed 1120px,#ececec 1155px,#ececec 1190px,#ebebeb 1225px,#eaeaea 1260px,#eaeaea 1295px,#e9e9e9 1330px,#e8e8e8 1365px,#e7e7e7 1400px,#e6e6e6 1435px,#e4e4e4 1470px,#e3e3e3 1505px,#e1e1e1 1540px,#e0e0e0 1575px,#dedede 1610px,#dddddd 1645px,#dbdbdb 1680px,#d9d9d9 1715px,#d7d7d7 1750px,#d5d5d5 1785px,#d2d2d2 1820px,#d0d0d0 1855px,#cdcdcd 1890px,#cbcbcb 1925px)"></i>
<i style="top:536px;background:linear-gradient(90deg,#cacaca 0px,#cdcdcd 35px,#d0d0d0 70px,#d2d2d2 105px,#d4d4d4 140px,#d6d6d6 175px,#d9d9d9 210px,#dadada 245px,#dcdcdc 280px,#dedede 315px,#e0e0e0 350px,#e1e1e1 385px,#e3e3e3 420px,#e4e4e4 455px,#e5e5e5 490px,#e6e6e6 525px,#e7e7e7 560px,#e8e8e8 595px,#e9e9e9 630px,#eaeaea 665px,#ebebeb 700px,#ebebeb 735px,#ececec 770px,#ececec 805px,#ededed 840px,#ededed 1085px,#ececec 1120px,#ececec 1155px,#ebebeb 1190px,#ebebeb 1225px,#eaeaea 1260px,#e9e9e9 1295px,#e8e8e8 1330px,#e7e7e7 1365px,#e6e6e6 1400px,#e5e5e5 1435px,#e4e4e4 1470px,#e3e3e3 1505px,#e1e1e1 1540px,#e0e0e0 1575px,#dedede 1610px,#dcdcdc 1645px,#dadada 1680px,#d9d9d9 1715px,#d6d6d6 1750px,#d4d4d4 1785px,#d2d2d2 1820px,#d0d0d0 1855px,#cdcdcd 1890px,#cacaca 1925px)"></i>
<i style="top:544px;background:linear-gradient(90deg,#cacaca 0px,#cdcdcd 35px,#cfcfcf 70px,#d2d2d2 105px,#d4d4d4 140px,#d6d6d6 175px,#d8d8d8 210px,#dadada 245px,#dcdcdc 280px,#dedede 315px,#dfdfdf 350px,#e1e1e1 385px,#e2e2e2 420px,#e4e4e4 455px,#e5e5e5 490px,#e6e6e6 525px,#e7e7e7 560px,#e8e8e8 595px,#e9e9e9 630px,#eaeaea 665px,#eaeaea 700px,#ebebeb 735px,#ebebeb 770px,#ececec 805px,#ececec 875px,#ededed 910px,#ededed 1015px,#ececec 1050px,#ececec 1120px,#ebebeb 1155px,#ebebeb 1190px,#eaeaea 1225px,#eaeaea 1260px,#e9e9e9 1295px,#e8e8e8 1330px,#e7e7e7 1365px,#e6e6e6 1400px,#e5e5e5 1435px,#e4e4e4 1470px,#e2e2e2 1505px,#e1e1e1 1540px,#dfdfdf 1575px,#dedede 1610px,#dcdcdc 1645px,#dadada 1680px,#d8d8d8 1715px,#d6d6d6 1750px,#d4d4d4 1785px,#d2d2d2 1820px,#cfcfcf 1855px,#cdcdcd 1890px,#cacaca 1925px)"></i>
<i style="top:552px;background:linear-gradient(90deg,#cacaca 0px,#cdcdcd 35px,#cfcfcf 70px,#d2d2d2 105px,#d4d4d4 140px,#d6d6d6 175px,#d8d8d8 210px,#dadada 245px,#dcdcdc 280px,#dedede 315px,#dfdfdf 350px,#e1e1e1 385px,#e2e2e2 420px,#e3e3e3 455px,#e5e5e5 490px,#e6e6e6 525px,#e7e7e7 560px,#e8e8e8 595px,#e9e9e9 630px,#e9e9e9 665px,#eaeaea 700px,#ebebeb 735px,#ebebeb 770px,#ececec 805px,#ececec 1120px,#ebebeb 1155px,#ebebeb 1190px,#eaeaea 1225px,#e9e9e9 1260px,#e9e9e9 1295px,#e8e8e8 1330px,#e7e7e7 1365px,#e6e6e6 1400px,#e5e5e5 1435px,#e3e3e3 1470px,#e2e2e2 1505px,#e1e1e1 1540px,#dfdfdf 1575px,#dedede 1610px,#dcdcdc 1645px,#dadada 1680px,#d8d8d8 1715px,#d6d6d6 1750px,#d4d4d4 1785px,#d2d2d2 1820px,#cfcfcf 1855px,#cdcdcd 1890px,#cacaca 1925px)"></i>
<i style="top:560px;background:linear-gradient(90deg,#cacaca 0px,#cdcdcd 35px,#cfcfcf 70px,#d2d2d2 105px,#d4d4d4 140px,#d6d6d6 175px,#d8d8d8 210px,#dadada 245px,#dcdcdc 280px,#dddddd 315px,#dfdfdf 350px,#e0e0e0 385px,#e2e2e2 420px,#e3e3e3 455px,#e4e4e4 490px,#e5e5e5 525px,#e6e6e6 560px,#e7e7e7 595px,#e8e8e8 630px,#e9e9e9 665px,#eaeaea 700px,#eaeaea 735px,#ebebeb 770px,#ebebeb 805px,#ececec 840px,#ececec 1085px,#ebebeb 1120px,#ebebeb 1155px,#eaeaea 1190px,#eaeaea 1225px,#e9e9e9 1260px,#e8e8e8 1295px,#e7e7e7 1330px,#e6e6e6 1365px,#e5e5e5 1400px,#e4e4e4 1435px,#e3e3e3 1470px,#e2e2e2 1505px,#e0e0e0 1540px,#dfdfdf 1575px,#dddddd 1610px,#dcdcdc 1645px,#dadada 1680px,#d8d8d8 1715px,#d6d6d6 1750px,#d4d4d4 1785px,#d2d2d2 1820px,#cfcfcf 1855px,#cdcdcd 1890px,#cacaca 1925px)"></i>
<i style="top:568px;background:linear-gradient(90deg,#cacaca 0px,#cdcdcd 35px,#cfcfcf 70px,#d1d1d1 105px,#d4d4d4 140px,#d6d6d6 175px,#d8d8d8 210px,#dadada 245px,#dbdbdb 280px,#dddddd 315px,#dfdfdf 350px,#e0e0e0 385px,#e2e2e2 420px,#e3e3e3 455px,#e4e4e4 490px,#e5e5e5 525px,#e6e6e6 560px,#e7e7e7 595px,#e8e8e8 630px,#e9e9e9 665px,#e9e9e9 700px,#eaeaea 735px,#eaeaea 770px,#ebebeb 805px,#ebebeb 875px,#ececec 910px,#ececec 1015px,#ebebeb 1050px,#ebebeb 1120px,#eaeaea 1155px,#eaeaea 1190px,#e9e9e9 1225px,#e9e9e9 1260px,#e8e8e8 1295px,#e7e7e7 1330px,#e6e6e6 1365px,#e5e5e5 1400px,#e4e4e4 1435px,#e3e3e3 1470px,#e2e2e2 1505px,#e0e0e0 1540px,#dfdfdf 1575px,#dddddd 1610px,#dbdbdb 1645px,#dadada 1680px,#d8d8d8 1715px,#d6d6d6 1750px,#d4d4d4 1785px,#d1d1d1 1820px,#cfcfcf 1855px,#cdcdcd 1890px,#cacaca 1925px)"></i>
<i style="top:576px;background:linear-gradient(90deg,#cacaca 0px,#cccccc 35px,#cfcfcf 70px,#d1d1d1 105px,#d3d3d3 140px,#d5d5d5 175px,#d7d7d7 210px,#d9d9d9 245px,#dbdbdb 280px,#dddddd 315px,#dedede 350px,#e0e0e0 385px,#e1e1e1 420px,#e3e3e3 455px,#e4e4e4 490px,#e5e5e5 525px,#e6e6e6 560px,#e7e7e7 595px,#e8e8e8 630px,#e8e8e8 665px,#e9e9e9 700px,#eaeaea 735px,#eaeaea 770px,#ebebeb 805px,#ebebeb 1120px,#eaeaea 1155px,#eaeaea 1190px,#e9e9e9 1225px,#e8e8e8 1260px,#e8e8e8 1295px,#e7e7e7 1330px,#e6e6e6 1365px,#e5e5e5 1400px,#e4e4e4 1435px,#e3e3e3 1470px,#e1e1e1 1505px,#e0e0e0 1540px,#dedede 1575px,#dddddd 1610px,#dbdbdb 1645px,#d9d9d9 1680px,#d7d7d7 1715px,#d5d5d5 1750px,#d3d3d3 1785px,#d1d1d1 1820px,#cfcfcf 1855px,#cccccc 1890px,#cacaca 1925px)"></i>
<i style="top:584px;background:linear-gradient(90deg,#cacaca 0px,#cccccc 35px,#cfcfcf 70px,#d1d1d1 105px,#d3d3d3 140px,#d5d5d5 175px,#d7d7d7 210px,#d9d9d9 245px,#dbdbdb 280px,#dddddd 315px,#dedede 350px,#e0e0e0 385px,#e1e1e1 420px,#e2e2e2 455px,#e3e3e3 490px,#e5e5e5 525px,#e6e6e6 560px,#e6e6e6 595px,#e7e7e7 630px,#e8e8e8 665px,#e9e9e9 700px,#e9e9e9 735px,#eaeaea 770px,#eaeaea 805px,#ebebeb 840px,#ebebeb 1085px,#eaeaea 1120px,#eaeaea 1155px,#e9e9e9 1190px,#e9e9e9 1225px,#e8e8e8 1260px,#e7e7e7 1295px,#e6e6e6 1330px,#e6e6e6 1365px,#e5e5e5 1400px,#e3e3e3 1435px,#e2e2e2 1470px,#e1e1e1 1505px,#e0e0e0 1540px,#dedede 1575px,#dddddd 1610px,#dbdbdb 1645px,#d9d9d9 1680px,#d7d7d7 1715px,#d5d5d5 1750px,#d3d3d3 1785px,#d1d1d1 1820px,#cfcfcf 1855px,#cccccc 1890px,#cacaca 1925px)"></i>
<i style="top:592px;background:linear-gradient(90deg,#cacaca 0px,#cccccc 35px,#cfcfcf 70px,#d1d1d1 105px,#d3d3d3 140px,#d5d5d5 175px,#d7d7d7 210px,#d9d9d9 245px,#dbdbdb 280px,#dcdcdc 315px,#dedede 350px,#dfdfdf 385px,#e1e1e1 420px,#e2e2e2 455px,#e3e3e3 490px,#e4e4e4 525px,#e5e5e5 560px,#e6e6e6 595px,#e7e7e7 630px,#e8e8e8 665px,#e8e8e8 700px,#e9e9e9 735px,#e9e9e9 770px,#eaeaea 805px,#eaeaea 875px,#ebebeb 910px,#ebebeb 1015px,#eaeaea 1050px,#eaeaea 1120px,#e9e9e9 1155px,#e9e9e9 1190px,#e8e8e8 1225px,#e8e8e8 1260px,#e7e7e7 1295px,#e6e6e6 1330px,#e5e5e5 1365px,#e4e4e4 1400px,#e3e3e3 1435px,#e2e2e2 1470px,#e1e1e1 1505px,#dfdfdf 1540px,#dedede 1575px,#dcdcdc 1610px,#dbdbdb 1645px,#d9d9d9 1680px,#d7d7d7 1715px,#d5d5d5 1750px,#d3d3d3 1785px,#d1d1d1 1820px,#cfcfcf 1855px,#cccccc 1890px,#cacaca 1925px)"></i>
<i style="top:600px;background:linear-gradient(90deg,#c9c9c9 0px,#cccccc 35px,#cecece 70px,#d1d1d1 105px,#d3d3d3 140px,#d5d5d5 175px,#d7d7d7 210px,#d9d9d9 245px,#dadada 280px,#dcdcdc 315px,#dedede 350px,#dfdfdf 385px,#e0e0e0 420px,#e2e2e2 455px,#e3e3e3 490px,#e4e4e4 525px,#e5e5e5 560px,#e6e6e6 595px,#e7e7e7 630px,#e7e7e7 665px,#e8e8e8 700px,#e9e9e9 735px,#e9e9e9 770px,#eaeaea 805px,#eaeaea 1120px,#e9e9e9 1155px,#e9e9e9 1190px,#e8e8e8 1225px,#e7e7e7 1260px,#e7e7e7 1295px,#e6e6e6 1330px,#e5e5e5 1365px,#e4e4e4 1400px,#e3e3e3 1435px,#e2e2e2 1470px,#e0e0e0 1505px,#dfdfdf 1540px,#dedede 1575px,#dcdcdc 1610px,#dadada 1645px,#d9d9d9 1680px,#d7d7d7 1715px,#d5d5d5 1750px,#d3d3d3 1785px,#d1d1d1 1820px,#cecece 1855px,#cccccc 1890px,#c9c9c9 1925px)"></i>
<i style="top:608px;background:linear-gradient(90deg,#c9c9c9 0px,#cccccc 35px,#cecece 70px,#d0d0d0 105px,#d3d3d3 140px,#d5d5d5 175px,#d7d7d7 210px,#d8d8d8 245px,#dadada 280px,#dcdcdc 315px,#dddddd 350px,#dfdfdf 385px,#e0e0e0 420px,#e1e1e1 455px,#e3e3e3 490px,#e4e4e4 525px,#e5e5e5 560px,#e6e6e6 595px,#e6e6e6 630px,#e7e7e7 665px,#e8e8e8 700px,#e8e8e8 735px,#e9e9e9 770px,#e9e9e9 805px,#eaeaea 840px,#eaeaea 1085px,#e9e9e9 1120px,#e9e9e9 1155px,#e8e8e8 1190px,#e8e8e8 1225px,#e7e7e7 1260px,#e6e6e6 1295px,#e6e6e6 1330px,#e5e5e5 1365px,#e4e4e4 1400px,#e3e3e3 1435px,#e1e1e1 1470px,#e0e0e0 1505px,#dfdfdf 1540px,#dddddd 1575px,#dcdcdc 1610px,#dadada 1645px,#d8d8d8 1680px,#d7d7d7 1715px,#d5d5d5 1750px,#d3d3d3 1785px,#d0d0d0 1820px,#cecece 1855px,#cccccc 1890px,#c9c9c9 1925px)"></i>
<i style="top:616px;background:linear-gradient(90deg,#c9c9c9 0px,#cccccc 35px,#cecece 70px,#d0d0d0 105px,#d2d2d2 140px,#d4d4d4 175px,#d6d6d6 210px,#d8d8d8 245px,#dadada 280px,#dcdcdc 315px,#dddddd 350px,#dedede 385px,#e0e0e0 420px,#e1e1e1 455px,#e2e2e2 490px,#e3e3e3 525px,#e4e4e4 560px,#e5e5e5 595px,#e6e6e6 630px,#e7e7e7 665px,#e7e7e7 700px,#e8e8e8 735px,#e8e8e8 770px,#e9e9e9 805px,#e9e9e9 875px,#eaeaea 910px,#eaeaea 1015px,#e9e9e9 1050px,#e9e9e9 1120px,#e8e8e8 1155px,#e8e8e8 1190px,#e7e7e7 1225px,#e7e7e7 1260px,#e6e6e6 1295px,#e5e5e5 1330px,#e4e4e4 1365px,#e3e3e3 1400px,#e2e2e2 1435px,#e1e1e1 1470px,#e0e0e0 1505px,#dedede 1540px,#dddddd 1575px,#dcdcdc 1610px,#dadada 1645px,#d8d8d8 1680px,#d6d6d6 1715px,#d4d4d4 1750px,#d2d2d2 1785px,#d0d0d0 1820px,#cecece 1855px,#cccccc 1890px,#c9c9c9 1925px)"></i>
<i style="top:624px;background:linear-gradient(90deg,#c9c9c9 0px,#cccccc 35px,#cecece 70px,#d0d0d0 105px,#d2d2d2 140px,#d4d4d4 175px,#d6d6d6 210px,#d8d8d8 245px,#dadada 280px,#dbdbdb 315px,#dddddd 350px,#dedede 385px,#e0e0e0 420px,#e1e1e1 455px,#e2e2e2 490px,#e3e3e3 525px,#e4e4e4 560px,#e5e5e5 595px,#e6e6e6 630px,#e6e6e6 665px,#e7e7e7 700px,#e8e8e8 735px,#e8e8e8 770px,#e9e9e9 805px,#e9e9e9 1120px,#e8e8e8 1155px,#e8e8e8 1190px,#e7e7e7 1225px,#e6e6e6 1260px,#e6e6e6 1295px,#e5e5e5 1330px,#e4e4e4 1365px,#e3e3e3 1400px,#e2e2e2 1435px,#e1e1e1 1470px,#e0e0e0 1505px,#dedede 1540px,#dddddd 1575px,#dbdbdb 1610px,#dadada 1645px,#d8d8d8 1680px,#d6d6d6 1715px,#d4d4d4 1750px,#d2d2d2 1785px,#d0d0d0 1820px,#cecece 1855px,#cccccc 1890px,#c9c9c9 1925px)"></i>
<i style="top:632px;background:linear-gradient(90deg,#c9c9c9 0px,#cbcbcb 35px,#cecece 70px,#d0d0d0 105px,#d2d2d2 140px,#d4d4d4 175px,#d6d6d6 210px,#d8d8d8 245px,#d9d9d9 280px,#dbdbdb 315px,#dddddd 350px,#dedede 385px,#dfdfdf 420px,#e0e0e0 455px,#e2e2e2 490px,#e3e3e3 525px,#e4e4e4 560px,#e5e5e5 595px,#e5e5e5 630px,#e6e6e6 665px,#e7e7e7 700px,#e7e7e7 735px,#e8e8e8 770px,#e8e8e8 805px,#e9e9e9 840px,#e9e9e9 1085px,#e8e8e8 1120px,#e8e8e8 1155px,#e7e7e7 1190px,#e7e7e7 1225px,#e6e6e6 1260px,#e5e5e5 1295px,#e5e5e5 1330px,#e4e4e4 1365px,#e3e3e3 1400px,#e2e2e2 1435px,#e0e0e0 1470px,#dfdfdf 1505px,#dedede 1540px,#dddddd 1575px,#dbdbdb 1610px,#d9d9d9 1645px,#d8d8d8 1680px,#d6d6d6 1715px,#d4d4d4 1750px,#d2d2d2 1785px,#d0d0d0 1820px,#cecece 1855px,#cbcbcb 1890px,#c9c9c9 1925px)"></i>
<i style="top:640px;background:linear-gradient(90deg,#c9c9c9 0px,#cbcbcb 35px,#cecece 70px,#d0d0d0 105px,#d2d2d2 140px,#d4d4d4 175px,#d6d6d6 210px,#d7d7d7 245px,#d9d9d9 280px,#dbdbdb 315px,#dcdcdc 350px,#dedede 385px,#dfdfdf 420px,#e0e0e0 455px,#e1e1e1 490px,#e2e2e2 525px,#e3e3e3 560px,#e4e4e4 595px,#e5e5e5 630px,#e6e6e6 665px,#e6e6e6 700px,#e7e7e7 735px,#e7e7e7 770px,#e8e8e8 805px,#e8e8e8 875px,#e9e9e9 910px,#e9e9e9 1015px,#e8e8e8 1050px,#e8e8e8 1120px,#e7e7e7 1155px,#e7e7e7 1190px,#e6e6e6 1225px,#e6e6e6 1260px,#e5e5e5 1295px,#e4e4e4 1330px,#e3e3e3 1365px,#e2e2e2 1400px,#e1e1e1 1435px,#e0e0e0 1470px,#dfdfdf 1505px,#dedede 1540px,#dcdcdc 1575px,#dbdbdb 1610px,#d9d9d9 1645px,#d7d7d7 1680px,#d6d6d6 1715px,#d4d4d4 1750px,#d2d2d2 1785px,#d0d0d0 1820px,#cecece 1855px,#cbcbcb 1890px,#c9c9c9 1925px)"></i>
<i style="top:648px;background:linear-gradient(90deg,#c9c9c9 0px,#cbcbcb 35px,#cdcdcd 70px,#d0d0d0 105px,#d2d2d2 140px,#d4d4d4 175px,#d5d5d5 210px,#d7d7d7 245px,#d9d9d9 280px,#dadada 315px,#dcdcdc 350px,#dddddd 385px,#dfdfdf 420px,#e0e0e0 455px,#e1e1e1 490px,#e2e2e2 525px,#e3e3e3 560px,#e4e4e4 595px,#e5e5e5 630px,#e5e5e5 665px,#e6e6e6 700px,#e7e7e7 735px,#e7e7e7 770px,#e8e8e8 805px,#e8e8e8 1120px,#e7e7e7 1155px,#e7e7e7 1190px,#e6e6e6 1225px,#e5e5e5 1260px,#e5e5e5 1295px,#e4e4e4 1330px,#e3e3e3 1365px,#e2e2e2 1400px,#e1e1e1 1435px,#e0e0e0 1470px,#dfdfdf 1505px,#dddddd 1540px,#dcdcdc 1575px,#dadada 1610px,#d9d9d9 1645px,#d7d7d7 1680px,#d5d5d5 1715px,#d4d4d4 1750px,#d2d2d2 1785px,#d0d0d0 1820px,#cdcdcd 1855px,#cbcbcb 1890px,#c9c9c9 1925px)"></i>
<i style="top:656px;background:linear-gradient(90deg,#c8c8c8 0px,#cbcbcb 35px,#cdcdcd 70px,#cfcfcf 105px,#d1d1d1 140px,#d3d3d3 175px,#d5d5d5 210px,#d7d7d7 245px,#d9d9d9 280px,#dadada 315px,#dcdcdc 350px,#dddddd 385px,#dedede 420px,#e0e0e0 455px,#e1e1e1 490px,#e2e2e2 525px,#e3e3e3 560px,#e4e4e4 595px,#e4e4e4 630px,#e5e5e5 665px,#e6e6e6 700px,#e6e6e6 735px,#e7e7e7 770px,#e7e7e7 840px,#e8e8e8 875px,#e8e8e8 1050px,#e7e7e7 1085px,#e7e7e7 1155px,#e6e6e6 1190px,#e6e6e6 1225px,#e5e5e5 1260px,#e4e4e4 1295px,#e4e4e4 1330px,#e3e3e3 1365px,#e2e2e2 1400px,#e1e1e1 1435px,#e0e0e0 1470px,#dedede 1505px,#dddddd 1540px,#dcdcdc 1575px,#dadada 1610px,#d9d9d9 1645px,#d7d7d7 1680px,#d5d5d5 1715px,#d3d3d3 1750px,#d1d1d1 1785px,#cfcfcf 1820px,#cdcdcd 1855px,#cbcbcb 1890px,#c8c8c8 1925px)"></i>
<i style="top:664px;background:linear-gradient(90deg,#c8c8c8 0px,#cbcbcb 35px,#cdcdcd 70px,#cfcfcf 105px,#d1d1d1 140px,#d3d3d3 175px,#d5d5d5 210px,#d7d7d7 245px,#d8d8d8 280px,#dadada 315px,#dbdbdb 350px,#dddddd 385px,#dedede 420px,#dfdfdf 455px,#e0e0e0 490px,#e1e1e1 525px,#e2e2e2 560px,#e3e3e3 595px,#e4e4e4 630px,#e5e5e5 665px,#e5e5e5 700px,#e6e6e6 735px,#e6e6e6 770px,#e7e7e7 805px,#e7e7e7 875px,#e8e8e8 910px,#e8e8e8 1015px,#e7e7e7 1050px,#e7e7e7 1120px,#e6e6e6 1155px,#e6e6e6 1190px,#e5e5e5 1225px,#e5e5e5 1260px,#e4e4e4 1295px,#e3e3e3 1330px,#e2e2e2 1365px,#e1e1e1 1400px,#e0e0e0 1435px,#dfdfdf 1470px,#dedede 1505px,#dddddd 1540px,#dbdbdb 1575px,#dadada 1610px,#d8d8d8 1645px,#d7d7d7 1680px,#d5d5d5 1715px,#d3d3d3 1750px,#d1d1d1 1785px,#cfcfcf 1820px,#cdcdcd 1855px,#cbcbcb 1890px,#c8c8c8 1925px)"></i>
<i style="top:672px;background:linear-gradient(90deg,#c8c8c8 0px,#cbcbcb 35px,#cdcdcd 70px,#cfcfcf 105px,#d1d1d1 140px,#d3d3d3 175px,#d5d5d5 210px,#d6d6d6 245px,#d8d8d8 280px,#dadada 315px,#dbdbdb 350px,#dddddd 385px,#dedede 420px,#dfdfdf 455px,#e0e0e0 490px,#e1e1e1 525px,#e2e2e2 560px,#e3e3e3 595px,#e4e4e4 630px,#e4e4e4 665px,#e5e5e5 700px,#e6e6e6 735px,#e6e6e6 805px,#e7e7e7 840px,#e7e7e7 1085px,#e6e6e6 1120px,#e6e6e6 1190px,#e5e5e5 1225px,#e4e4e4 1260px,#e4e4e4 1295px,#e3e3e3 1330px,#e2e2e2 1365px,#e1e1e1 1400px,#e0e0e0 1435px,#dfdfdf 1470px,#dedede 1505px,#dddddd 1540px,#dbdbdb 1575px,#dadada 1610px,#d8d8d8 1645px,#d6d6d6 1680px,#d5d5d5 1715px,#d3d3d3 1750px,#d1d1d1 1785px,#cfcfcf 1820px,#cdcdcd 1855px,#cbcbcb 1890px,#c8c8c8 1925px)"></i>
<i style="top:680px;background:linear-gradient(90deg,#c8c8c8 0px,#cacaca 35px,#cdcdcd 70px,#cfcfcf 105px,#d1d1d1 140px,#d3d3d3 175px,#d5d5d5 210px,#d6d6d6 245px,#d8d8d8 280px,#d9d9d9 315px,#dbdbdb 350px,#dcdcdc 385px,#dedede 420px,#dfdfdf 455px,#e0e0e0 490px,#e1e1e1 525px,#e2e2e2 560px,#e3e3e3 595px,#e3e3e3 630px,#e4e4e4 665px,#e5e5e5 700px,#e5e5e5 735px,#e6e6e6 770px,#e6e6e6 840px,#e7e7e7 875px,#e7e7e7 1050px,#e6e6e6 1085px,#e6e6e6 1155px,#e5e5e5 1190px,#e5e5e5 1225px,#e4e4e4 1260px,#e3e3e3 1295px,#e3e3e3 1330px,#e2e2e2 1365px,#e1e1e1 1400px,#e0e0e0 1435px,#dfdfdf 1470px,#dedede 1505px,#dcdcdc 1540px,#dbdbdb 1575px,#d9d9d9 1610px,#d8d8d8 1645px,#d6d6d6 1680px,#d5d5d5 1715px,#d3d3d3 1750px,#d1d1d1 1785px,#cfcfcf 1820px,#cdcdcd 1855px,#cacaca 1890px,#c8c8c8 1925px)"></i>
<i style="top:688px;background:linear-gradient(90deg,#c8c8c8 0px,#cacaca 35px,#cccccc 70px,#cfcfcf 105px,#d1d1d1 140px,#d2d2d2 175px,#d4d4d4 210px,#d6d6d6 245px,#d8d8d8 280px,#d9d9d9 315px,#dbdbdb 350px,#dcdcdc 385px,#dddddd 420px,#dedede 455px,#e0e0e0 490px,#e1e1e1 525px,#e1e1e1 560px,#e2e2e2 595px,#e3e3e3 630px,#e4e4e4 665px,#e4e4e4 700px,#e5e5e5 735px,#e5e5e5 770px,#e6e6e6 805px,#e6e6e6 875px,#e7e7e7 910px,#e7e7e7 1015px,#e6e6e6 1050px,#e6e6e6 1120px,#e5e5e5 1155px,#e5e5e5 1190px,#e4e4e4 1225px,#e4e4e4 1260px,#e3e3e3 1295px,#e2e2e2 1330px,#e1e1e1 1365px,#e1e1e1 1400px,#e0e0e0 1435px,#dedede 1470px,#dddddd 1505px,#dcdcdc 1540px,#dbdbdb 1575px,#d9d9d9 1610px,#d8d8d8 1645px,#d6d6d6 1680px,#d4d4d4 1715px,#d2d2d2 1750px,#d1d1d1 1785px,#cfcfcf 1820px,#cccccc 1855px,#cacaca 1890px,#c8c8c8 1925px)"></i>
<i style="top:696px;background:linear-gradient(90deg,#c8c8c8 0px,#cacaca 35px,#cccccc 70px,#cecece 105px,#d0d0d0 140px,#d2d2d2 175px,#d4d4d4 210px,#d6d6d6 245px,#d7d7d7 280px,#d9d9d9 315px,#dadada 350px,#dcdcdc 385px,#dddddd 420px,#dedede 455px,#dfdfdf 490px,#e0e0e0 525px,#e1e1e1 560px,#e2e2e2 595px,#e3e3e3 630px,#e3e3e3 665px,#e4e4e4 700px,#e5e5e5 735px,#e5e5e5 805px,#e6e6e6 840px,#e6e6e6 1085px,#e5e5e5 1120px,#e5e5e5 1190px,#e4e4e4 1225px,#e3e3e3 1260px,#e3e3e3 1295px,#e2e2e2 1330px,#e1e1e1 1365px,#e0e0e0 1400px,#dfdfdf 1435px,#dedede 1470px,#dddddd 1505px,#dcdcdc 1540px,#dadada 1575px,#d9d9d9 1610px,#d7d7d7 1645px,#d6d6d6 1680px,#d4d4d4 1715px,#d2d2d2 1750px,#d0d0d0 1785px,#cecece 1820px,#cccccc 1855px,#cacaca 1890px,#c8c8c8 1925px)"></i>
<i style="top:704px;background:linear-gradient(90deg,#c8c8c8 0px,#cacaca 35px,#cccccc 70px,#cecece 105px,#d0d0d0 140px,#d2d2d2 175px,#d4d4d4 210px,#d5d5d5 245px,#d7d7d7 280px,#d9d9d9 315px,#dadada 350px,#dbdbdb 385px,#dddddd 420px,#dedede 455px,#dfdfdf 490px,#e0e0e0 525px,#e1e1e1 560px,#e2e2e2 595px,#e2e2e2 630px,#e3e3e3 665px,#e4e4e4 700px,#e4e4e4 735px,#e5e5e5 770px,#e5e5e5 840px,#e6e6e6 875px,#e6e6e6 1050px,#e5e5e5 1085px,#e5e5e5 1155px,#e4e4e4 1190px,#e4e4e4 1225px,#e3e3e3 1260px,#e2e2e2 1295px,#e2e2e2 1330px,#e1e1e1 1365px,#e0e0e0 1400px,#dfdfdf 1435px,#dedede 1470px,#dddddd 1505px,#dbdbdb 1540px,#dadada 1575px,#d9d9d9 1610px,#d7d7d7 1645px,#d5d5d5 1680px,#d4d4d4 1715px,#d2d2d2 1750px,#d0d0d0 1785px,#cecece 1820px,#cccccc 1855px,#cacaca 1890px,#c8c8c8 1925px)"></i>
<i style="top:712px;background:linear-gradient(90deg,#c7c7c7 0px,#cacaca 35px,#cccccc 70px,#cecece 105px,#d0d0d0 140px,#d2d2d2 175px,#d4d4d4 210px,#d5d5d5 245px,#d7d7d7 280px,#d8d8d8 315px,#dadada 350px,#dbdbdb 385px,#dcdcdc 420px,#dedede 455px,#dfdfdf 490px,#e0e0e0 525px,#e1e1e1 560px,#e1e1e1 595px,#e2e2e2 630px,#e3e3e3 665px,#e3e3e3 700px,#e4e4e4 735px,#e4e4e4 770px,#e5e5e5 805px,#e5e5e5 910px,#e6e6e6 945px,#e6e6e6 980px,#e5e5e5 1015px,#e5e5e5 1120px,#e4e4e4 1155px,#e4e4e4 1190px,#e3e3e3 1225px,#e3e3e3 1260px,#e2e2e2 1295px,#e1e1e1 1330px,#e1e1e1 1365px,#e0e0e0 1400px,#dfdfdf 1435px,#dedede 1470px,#dcdcdc 1505px,#dbdbdb 1540px,#dadada 1575px,#d8d8d8 1610px,#d7d7d7 1645px,#d5d5d5 1680px,#d4d4d4 1715px,#d2d2d2 1750px,#d0d0d0 1785px,#cecece 1820px,#cccccc 1855px,#cacaca 1890px,#c7c7c7 1925px)"></i>
<i style="top:720px;background:linear-gradient(90deg,#c7c7c7 0px,#c9c9c9 35px,#cccccc 70px,#cecece 105px,#d0d0d0 140px,#d2d2d2 175px,#d3d3d3 210px,#d5d5d5 245px,#d7d7d7 280px,#d8d8d8 315px,#d9d9d9 350px,#dbdbdb 385px,#dcdcdc 420px,#dddddd 455px,#dedede 490px,#dfdfdf 525px,#e0e0e0 560px,#e1e1e1 595px,#e2e2e2 630px,#e3e3e3 665px,#e3e3e3 700px,#e4e4e4 735px,#e4e4e4 805px,#e5e5e5 840px,#e5e5e5 1085px,#e4e4e4 1120px,#e4e4e4 1190px,#e3e3e3 1225px,#e3e3e3 1260px,#e2e2e2 1295px,#e1e1e1 1330px,#e0e0e0 1365px,#dfdfdf 1400px,#dedede 1435px,#dddddd 1470px,#dcdcdc 1505px,#dbdbdb 1540px,#d9d9d9 1575px,#d8d8d8 1610px,#d7d7d7 1645px,#d5d5d5 1680px,#d3d3d3 1715px,#d2d2d2 1750px,#d0d0d0 1785px,#cecece 1820px,#cccccc 1855px,#c9c9c9 1890px,#c7c7c7 1925px)"></i>
<i style="top:728px;background:linear-gradient(90deg,#c7c7c7 0px,#c9c9c9 35px,#cbcbcb 70px,#cdcdcd 105px,#cfcfcf 140px,#d1d1d1 175px,#d3d3d3 210px,#d5d5d5 245px,#d6d6d6 280px,#d8d8d8 315px,#d9d9d9 350px,#dbdbdb 385px,#dcdcdc 420px,#dddddd 455px,#dedede 490px,#dfdfdf 525px,#e0e0e0 560px,#e1e1e1 595px,#e2e2e2 630px,#e2e2e2 665px,#e3e3e3 700px,#e3e3e3 735px,#e4e4e4 770px,#e4e4e4 840px,#e5e5e5 875px,#e5e5e5 1050px,#e4e4e4 1085px,#e4e4e4 1155px,#e3e3e3 1190px,#e3e3e3 1225px,#e2e2e2 1260px,#e2e2e2 1295px,#e1e1e1 1330px,#e0e0e0 1365px,#dfdfdf 1400px,#dedede 1435px,#dddddd 1470px,#dcdcdc 1505px,#dbdbdb 1540px,#d9d9d9 1575px,#d8d8d8 1610px,#d6d6d6 1645px,#d5d5d5 1680px,#d3d3d3 1715px,#d1d1d1 1750px,#cfcfcf 1785px,#cdcdcd 1820px,#cbcbcb 1855px,#c9c9c9 1890px,#c7c7c7 1925px)"></i>
<i style="top:736px;background:linear-gradient(90deg,#c7c7c7 0px,#c9c9c9 35px,#cbcbcb 70px,#cdcdcd 105px,#cfcfcf 140px,#d1d1d1 175px,#d3d3d3 210px,#d4d4d4 245px,#d6d6d6 280px,#d8d8d8 315px,#d9d9d9 350px,#dadada 385px,#dbdbdb 420px,#dddddd 455px,#dedede 490px,#dfdfdf 525px,#e0e0e0 560px,#e0e0e0 595px,#e1e1e1 630px,#e2e2e2 665px,#e2e2e2 700px,#e3e3e3 735px,#e3e3e3 770px,#e4e4e4 805px,#e4e4e4 910px,#e5e5e5 945px,#e5e5e5 980px,#e4e4e4 1015px,#e4e4e4 1120px,#e3e3e3 1155px,#e3e3e3 1190px,#e2e2e2 1225px,#e2e2e2 1260px,#e1e1e1 1295px,#e0e0e0 1330px,#e0e0e0 1365px,#dfdfdf 1400px,#dedede 1435px,#dddddd 1470px,#dbdbdb 1505px,#dadada 1540px,#d9d9d9 1575px,#d8d8d8 1610px,#d6d6d6 1645px,#d4d4d4 1680px,#d3d3d3 1715px,#d1d1d1 1750px,#cfcfcf 1785px,#cdcdcd 1820px,#cbcbcb 1855px,#c9c9c9 1890px,#c7c7c7 1925px)"></i>
<i style="top:744px;background:linear-gradient(90deg,#c7c7c7 0px,#c9c9c9 35px,#cbcbcb 70px,#cdcdcd 105px,#cfcfcf 140px,#d1d1d1 175px,#d3d3d3 210px,#d4d4d4 245px,#d6d6d6 280px,#d7d7d7 315px,#d9d9d9 350px,#dadada 385px,#dbdbdb 420px,#dcdcdc 455px,#dddddd 490px,#dedede 525px,#dfdfdf 560px,#e0e0e0 595px,#e1e1e1 630px,#e2e2e2 665px,#e2e2e2 700px,#e3e3e3 735px,#e3e3e3 805px,#e4e4e4 840px,#e4e4e4 1085px,#e3e3e3 1120px,#e3e3e3 1190px,#e2e2e2 1225px,#e2e2e2 1260px,#e1e1e1 1295px,#e0e0e0 1330px,#dfdfdf 1365px,#dedede 1400px,#dddddd 1435px,#dcdcdc 1470px,#dbdbdb 1505px,#dadada 1540px,#d9d9d9 1575px,#d7d7d7 1610px,#d6d6d6 1645px,#d4d4d4 1680px,#d3d3d3 1715px,#d1d1d1 1750px,#cfcfcf 1785px,#cdcdcd 1820px,#cbcbcb 1855px,#c9c9c9 1890px,#c7c7c7 1925px)"></i>
<i style="top:752px;background:linear-gradient(90deg,#c7c7c7 0px,#c9c9c9 35px,#cbcbcb 70px,#cdcdcd 105px,#cfcfcf 140px,#d1d1d1 175px,#d2d2d2 210px,#d4d4d4 245px,#d6d6d6 280px,#d7d7d7 315px,#d8d8d8 350px,#dadada 385px,#dbdbdb 420px,#dcdcdc 455px,#dddddd 490px,#dedede 525px,#dfdfdf 560px,#e0e0e0 595px,#e1e1e1 630px,#e1e1e1 665px,#e2e2e2 700px,#e2e2e2 735px,#e3e3e3 770px,#e3e3e3 840px,#e4e4e4 875px,#e4e4e4 1050px,#e3e3e3 1085px,#e3e3e3 1155px,#e2e2e2 1190px,#e2e2e2 1225px,#e1e1e1 1260px,#e1e1e1 1295px,#e0e0e0 1330px,#dfdfdf 1365px,#dedede 1400px,#dddddd 1435px,#dcdcdc 1470px,#dbdbdb 1505px,#dadada 1540px,#d8d8d8 1575px,#d7d7d7 1610px,#d6d6d6 1645px,#d4d4d4 1680px,#d2d2d2 1715px,#d1d1d1 1750px,#cfcfcf 1785px,#cdcdcd 1820px,#cbcbcb 1855px,#c9c9c9 1890px,#c7c7c7 1925px)"></i>
<i style="top:760px;background:linear-gradient(90deg,#c6c6c6 0px,#c9c9c9 35px,#cbcbcb 70px,#cdcdcd 105px,#cfcfcf 140px,#d0d0d0 175px,#d2d2d2 210px,#d4d4d4 245px,#d5d5d5 280px,#d7d7d7 315px,#d8d8d8 350px,#d9d9d9 385px,#dbdbdb 420px,#dcdcdc 455px,#dddddd 490px,#dedede 525px,#dfdfdf 560px,#dfdfdf 595px,#e0e0e0 630px,#e1e1e1 665px,#e1e1e1 700px,#e2e2e2 735px,#e2e2e2 770px,#e3e3e3 805px,#e3e3e3 910px,#e4e4e4 945px,#e4e4e4 980px,#e3e3e3 1015px,#e3e3e3 1120px,#e2e2e2 1155px,#e2e2e2 1190px,#e1e1e1 1225px,#e1e1e1 1260px,#e0e0e0 1295px,#dfdfdf 1330px,#dfdfdf 1365px,#dedede 1400px,#dddddd 1435px,#dcdcdc 1470px,#dbdbdb 1505px,#d9d9d9 1540px,#d8d8d8 1575px,#d7d7d7 1610px,#d5d5d5 1645px,#d4d4d4 1680px,#d2d2d2 1715px,#d0d0d0 1750px,#cfcfcf 1785px,#cdcdcd 1820px,#cbcbcb 1855px,#c9c9c9 1890px,#c6c6c6 1925px)"></i>
<i style="top:768px;background:linear-gradient(90deg,#c6c6c6 0px,#c8c8c8 35px,#cacaca 70px,#cccccc 105px,#cecece 140px,#d0d0d0 175px,#d2d2d2 210px,#d3d3d3 245px,#d5d5d5 280px,#d6d6d6 315px,#d8d8d8 350px,#d9d9d9 385px,#dadada 420px,#dbdbdb 455px,#dcdcdc 490px,#dddddd 525px,#dedede 560px,#dfdfdf 595px,#e0e0e0 630px,#e1e1e1 665px,#e1e1e1 700px,#e2e2e2 735px,#e2e2e2 805px,#e3e3e3 840px,#e3e3e3 1085px,#e2e2e2 1120px,#e2e2e2 1190px,#e1e1e1 1225px,#e1e1e1 1260px,#e0e0e0 1295px,#dfdfdf 1330px,#dedede 1365px,#dddddd 1400px,#dcdcdc 1435px,#dbdbdb 1470px,#dadada 1505px,#d9d9d9 1540px,#d8d8d8 1575px,#d6d6d6 1610px,#d5d5d5 1645px,#d3d3d3 1680px,#d2d2d2 1715px,#d0d0d0 1750px,#cecece 1785px,#cccccc 1820px,#cacaca 1855px,#c8c8c8 1890px,#c6c6c6 1925px)"></i>
<i style="top:776px;background:linear-gradient(90deg,#c6c6c6 0px,#c8c8c8 35px,#cacaca 70px,#cccccc 105px,#cecece 140px,#d0d0d0 175px,#d2d2d2 210px,#d3d3d3 245px,#d5d5d5 280px,#d6d6d6 315px,#d8d8d8 350px,#d9d9d9 385px,#dadada 420px,#dbdbdb 455px,#dcdcdc 490px,#dddddd 525px,#dedede 560px,#dfdfdf 595px,#e0e0e0 630px,#e0e0e0 665px,#e1e1e1 700px,#e1e1e1 735px,#e2e2e2 770px,#e2e2e2 840px,#e3e3e3 875px,#e3e3e3 1050px,#e2e2e2 1085px,#e2e2e2 1155px,#e1e1e1 1190px,#e1e1e1 1225px,#e0e0e0 1260px,#e0e0e0 1295px,#dfdfdf 1330px,#dedede 1365px,#dddddd 1400px,#dcdcdc 1435px,#dbdbdb 1470px,#dadada 1505px,#d9d9d9 1540px,#d8d8d8 1575px,#d6d6d6 1610px,#d5d5d5 1645px,#d3d3d3 1680px,#d2d2d2 1715px,#d0d0d0 1750px,#cecece 1785px,#cccccc 1820px,#cacaca 1855px,#c8c8c8 1890px,#c6c6c6 1925px)"></i>
<i style="top:784px;background:linear-gradient(90deg,#c6c6c6 0px,#c8c8c8 35px,#cacaca 70px,#cccccc 105px,#cecece 140px,#d0d0d0 175px,#d1d1d1 210px,#d3d3d3 245px,#d4d4d4 280px,#d6d6d6 315px,#d7d7d7 350px,#d9d9d9 385px,#dadada 420px,#dbdbdb 455px,#dcdcdc 490px,#dddddd 525px,#dedede 560px,#dfdfdf 595px,#dfdfdf 630px,#e0e0e0 665px,#e0e0e0 700px,#e1e1e1 735px,#e1e1e1 770px,#e2e2e2 805px,#e2e2e2 1120px,#e1e1e1 1155px,#e1e1e1 1190px,#e0e0e0 1225px,#e0e0e0 1260px,#dfdfdf 1295px,#dfdfdf 1330px,#dedede 1365px,#dddddd 1400px,#dcdcdc 1435px,#dbdbdb 1470px,#dadada 1505px,#d9d9d9 1540px,#d7d7d7 1575px,#d6d6d6 1610px,#d4d4d4 1645px,#d3d3d3 1680px,#d1d1d1 1715px,#d0d0d0 1750px,#cecece 1785px,#cccccc 1820px,#cacaca 1855px,#c8c8c8 1890px,#c6c6c6 1925px)"></i>
<i style="top:792px;background:linear-gradient(90deg,#c6c6c6 0px,#c8c8c8 35px,#cacaca 70px,#cccccc 105px,#cecece 140px,#cfcfcf 175px,#d1d1d1 210px,#d3d3d3 245px,#d4d4d4 280px,#d6d6d6 315px,#d7d7d7 350px,#d8d8d8 385px,#d9d9d9 420px,#dbdbdb 455px,#dcdcdc 490px,#dddddd 525px,#dddddd 560px,#dedede 595px,#dfdfdf 630px,#e0e0e0 665px,#e0e0e0 700px,#e1e1e1 735px,#e1e1e1 805px,#e2e2e2 840px,#e2e2e2 1085px,#e1e1e1 1120px,#e1e1e1 1190px,#e0e0e0 1225px,#e0e0e0 1260px,#dfdfdf 1295px,#dedede 1330px,#dddddd 1365px,#dddddd 1400px,#dcdcdc 1435px,#dbdbdb 1470px,#d9d9d9 1505px,#d8d8d8 1540px,#d7d7d7 1575px,#d6d6d6 1610px,#d4d4d4 1645px,#d3d3d3 1680px,#d1d1d1 1715px,#cfcfcf 1750px,#cecece 1785px,#cccccc 1820px,#cacaca 1855px,#c8c8c8 1890px,#c6c6c6 1925px)"></i>
<i style="top:800px;background:linear-gradient(90deg,#c5c5c5 0px,#c8c8c8 35px,#cacaca 70px,#cccccc 105px,#cdcdcd 140px,#cfcfcf 175px,#d1d1d1 210px,#d2d2d2 245px,#d4d4d4 280px,#d5d5d5 315px,#d7d7d7 350px,#d8d8d8 385px,#d9d9d9 420px,#dadada 455px,#dbdbdb 490px,#dcdcdc 525px,#dddddd 560px,#dedede 595px,#dfdfdf 630px,#dfdfdf 665px,#e0e0e0 700px,#e0e0e0 735px,#e1e1e1 770px,#e1e1e1 840px,#e2e2e2 875px,#e2e2e2 1050px,#e1e1e1 1085px,#e1e1e1 1155px,#e0e0e0 1190px,#e0e0e0 1225px,#dfdfdf 1260px,#dfdfdf 1295px,#dedede 1330px,#dddddd 1365px,#dcdcdc 1400px,#dbdbdb 1435px,#dadada 1470px,#d9d9d9 1505px,#d8d8d8 1540px,#d7d7d7 1575px,#d5d5d5 1610px,#d4d4d4 1645px,#d2d2d2 1680px,#d1d1d1 1715px,#cfcfcf 1750px,#cdcdcd 1785px,#cccccc 1820px,#cacaca 1855px,#c8c8c8 1890px,#c5c5c5 1925px)"></i>
<i style="top:808px;background:linear-gradient(90deg,#c5c5c5 0px,#c7c7c7 35px,#c9c9c9 70px,#cbcbcb 105px,#cdcdcd 140px,#cfcfcf 175px,#d1d1d1 210px,#d2d2d2 245px,#d4d4d4 280px,#d5d5d5 315px,#d6d6d6 350px,#d8d8d8 385px,#d9d9d9 420px,#dadada 455px,#dbdbdb 490px,#dcdcdc 525px,#dddddd 560px,#dedede 595px,#dedede 630px,#dfdfdf 665px,#dfdfdf 700px,#e0e0e0 735px,#e0e0e0 770px,#e1e1e1 805px,#e1e1e1 1120px,#e0e0e0 1155px,#e0e0e0 1190px,#dfdfdf 1225px,#dfdfdf 1260px,#dedede 1295px,#dedede 1330px,#dddddd 1365px,#dcdcdc 1400px,#dbdbdb 1435px,#dadada 1470px,#d9d9d9 1505px,#d8d8d8 1540px,#d6d6d6 1575px,#d5d5d5 1610px,#d4d4d4 1645px,#d2d2d2 1680px,#d1d1d1 1715px,#cfcfcf 1750px,#cdcdcd 1785px,#cbcbcb 1820px,#c9c9c9 1855px,#c7c7c7 1890px,#c5c5c5 1925px)"></i>
<i style="top:816px;background:linear-gradient(90deg,#c5c5c5 0px,#c7c7c7 35px,#c9c9c9 70px,#cbcbcb 105px,#cdcdcd 140px,#cfcfcf 175px,#d0d0d0 210px,#d2d2d2 245px,#d3d3d3 280px,#d5d5d5 315px,#d6d6d6 350px,#d7d7d7 385px,#d9d9d9 420px,#dadada 455px,#dbdbdb 490px,#dcdcdc 525px,#dcdcdc 560px,#dddddd 595px,#dedede 630px,#dfdfdf 665px,#dfdfdf 700px,#e0e0e0 735px,#e0e0e0 805px,#e1e1e1 840px,#e1e1e1 1085px,#e0e0e0 1120px,#e0e0e0 1190px,#dfdfdf 1225px,#dfdfdf 1260px,#dedede 1295px,#dddddd 1330px,#dcdcdc 1365px,#dcdcdc 1400px,#dbdbdb 1435px,#dadada 1470px,#d9d9d9 1505px,#d7d7d7 1540px,#d6d6d6 1575px,#d5d5d5 1610px,#d3d3d3 1645px,#d2d2d2 1680px,#d0d0d0 1715px,#cfcfcf 1750px,#cdcdcd 1785px,#cbcbcb 1820px,#c9c9c9 1855px,#c7c7c7 1890px,#c5c5c5 1925px)"></i>
<i style="top:824px;background:linear-gradient(90deg,#c5c5c5 0px,#c7c7c7 35px,#c9c9c9 70px,#cbcbcb 105px,#cdcdcd 140px,#cecece 175px,#d0d0d0 210px,#d2d2d2 245px,#d3d3d3 280px,#d4d4d4 315px,#d6d6d6 350px,#d7d7d7 385px,#d8d8d8 420px,#d9d9d9 455px,#dadada 490px,#dbdbdb 525px,#dcdcdc 560px,#dddddd 595px,#dedede 630px,#dedede 665px,#dfdfdf 700px,#dfdfdf 735px,#e0e0e0 770px,#e0e0e0 840px,#e1e1e1 875px,#e1e1e1 1050px,#e0e0e0 1085px,#e0e0e0 1155px,#dfdfdf 1190px,#dfdfdf 1225px,#dedede 1260px,#dedede 1295px,#dddddd 1330px,#dcdcdc 1365px,#dbdbdb 1400px,#dadada 1435px,#d9d9d9 1470px,#d8d8d8 1505px,#d7d7d7 1540px,#d6d6d6 1575px,#d4d4d4 1610px,#d3d3d3 1645px,#d2d2d2 1680px,#d0d0d0 1715px,#cecece 1750px,#cdcdcd 1785px,#cbcbcb 1820px,#c9c9c9 1855px,#c7c7c7 1890px,#c5c5c5 1925px)"></i>
<i style="top:832px;background:linear-gradient(90deg,#c5c5c5 0px,#c7c7c7 35px,#c9c9c9 70px,#cbcbcb 105px,#cccccc 140px,#cecece 175px,#d0d0d0 210px,#d1d1d1 245px,#d3d3d3 280px,#d4d4d4 315px,#d6d6d6 350px,#d7d7d7 385px,#d8d8d8 420px,#d9d9d9 455px,#dadada 490px,#dbdbdb 525px,#dcdcdc 560px,#dddddd 595px,#dddddd 630px,#dedede 665px,#dedede 700px,#dfdfdf 735px,#dfdfdf 770px,#e0e0e0 805px,#e0e0e0 1120px,#dfdfdf 1155px,#dfdfdf 1190px,#dedede 1225px,#dedede 1260px,#dddddd 1295px,#dddddd 1330px,#dcdcdc 1365px,#dbdbdb 1400px,#dadada 1435px,#d9d9d9 1470px,#d8d8d8 1505px,#d7d7d7 1540px,#d6d6d6 1575px,#d4d4d4 1610px,#d3d3d3 1645px,#d1d1d1 1680px,#d0d0d0 1715px,#cecece 1750px,#cccccc 1785px,#cbcbcb 1820px,#c9c9c9 1855px,#c7c7c7 1890px,#c5c5c5 1925px)"></i>
<i style="top:840px;background:linear-gradient(90deg,#c4c4c4 0px,#c7c7c7 35px,#c9c9c9 70px,#cacaca 105px,#cccccc 140px,#cecece 175px,#d0d0d0 210px,#d1d1d1 245px,#d3d3d3 280px,#d4d4d4 315px,#d5d5d5 350px,#d6d6d6 385px,#d8d8d8 420px,#d9d9d9 455px,#dadada 490px,#dbdbdb 525px,#dbdbdb 560px,#dcdcdc 595px,#dddddd 630px,#dedede 665px,#dedede 700px,#dfdfdf 735px,#dfdfdf 805px,#e0e0e0 840px,#e0e0e0 1085px,#dfdfdf 1120px,#dfdfdf 1190px,#dedede 1225px,#dedede 1260px,#dddddd 1295px,#dcdcdc 1330px,#dbdbdb 1365px,#dbdbdb 1400px,#dadada 1435px,#d9d9d9 1470px,#d8d8d8 1505px,#d6d6d6 1540px,#d5d5d5 1575px,#d4d4d4 1610px,#d3d3d3 1645px,#d1d1d1 1680px,#d0d0d0 1715px,#cecece 1750px,#cccccc 1785px,#cacaca 1820px,#c9c9c9 1855px,#c7c7c7 1890px,#c4c4c4 1925px)"></i>
<i style="top:848px;background:linear-gradient(90deg,#c4c4c4 0px,#c6c6c6 35px,#c8c8c8 70px,#cacaca 105px,#cccccc 140px,#cecece 175px,#cfcfcf 210px,#d1d1d1 245px,#d2d2d2 280px,#d4d4d4 315px,#d5d5d5 350px,#d6d6d6 385px,#d7d7d7 420px,#d8d8d8 455px,#d9d9d9 490px,#dadada 525px,#dbdbdb 560px,#dcdcdc 595px,#dddddd 630px,#dddddd 665px,#dedede 700px,#dedede 735px,#dfdfdf 770px,#dfdfdf 840px,#e0e0e0 875px,#e0e0e0 1050px,#dfdfdf 1085px,#dfdfdf 1155px,#dedede 1190px,#dedede 1225px,#dddddd 1260px,#dddddd 1295px,#dcdcdc 1330px,#dbdbdb 1365px,#dadada 1400px,#d9d9d9 1435px,#d8d8d8 1470px,#d7d7d7 1505px,#d6d6d6 1540px,#d5d5d5 1575px,#d4d4d4 1610px,#d2d2d2 1645px,#d1d1d1 1680px,#cfcfcf 1715px,#cecece 1750px,#cccccc 1785px,#cacaca 1820px,#c8c8c8 1855px,#c6c6c6 1890px,#c4c4c4 1925px)"></i>
<i style="top:856px;background:linear-gradient(90deg,#c4c4c4 0px,#c6c6c6 35px,#c8c8c8 70px,#cacaca 105px,#cccccc 140px,#cdcdcd 175px,#cfcfcf 210px,#d1d1d1 245px,#d2d2d2 280px,#d3d3d3 315px,#d5d5d5 350px,#d6d6d6 385px,#d7d7d7 420px,#d8d8d8 455px,#d9d9d9 490px,#dadada 525px,#dbdbdb 560px,#dcdcdc 595px,#dcdcdc 630px,#dddddd 665px,#dddddd 700px,#dedede 735px,#dedede 770px,#dfdfdf 805px,#dfdfdf 1120px,#dedede 1155px,#dedede 1190px,#dddddd 1225px,#dddddd 1260px,#dcdcdc 1295px,#dcdcdc 1330px,#dbdbdb 1365px,#dadada 1400px,#d9d9d9 1435px,#d8d8d8 1470px,#d7d7d7 1505px,#d6d6d6 1540px,#d5d5d5 1575px,#d3d3d3 1610px,#d2d2d2 1645px,#d1d1d1 1680px,#cfcfcf 1715px,#cdcdcd 1750px,#cccccc 1785px,#cacaca 1820px,#c8c8c8 1855px,#c6c6c6 1890px,#c4c4c4 1925px)"></i>
<i style="top:864px;background:linear-gradient(90deg,#c4c4c4 0px,#c6c6c6 35px,#c8c8c8 70px,#cacaca 105px,#cbcbcb 140px,#cdcdcd 175px,#cfcfcf 210px,#d0d0d0 245px,#d2d2d2 280px,#d3d3d3 315px,#d4d4d4 350px,#d6d6d6 385px,#d7d7d7 420px,#d8d8d8 455px,#d9d9d9 490px,#dadada 525px,#dbdbdb 560px,#dbdbdb 595px,#dcdcdc 630px,#dddddd 665px,#dddddd 700px,#dedede 735px,#dedede 805px,#dfdfdf 840px,#dfdfdf 1085px,#dedede 1120px,#dedede 1190px,#dddddd 1225px,#dddddd 1260px,#dcdcdc 1295px,#dbdbdb 1330px,#dbdbdb 1365px,#dadada 1400px,#d9d9d9 1435px,#d8d8d8 1470px,#d7d7d7 1505px,#d6d6d6 1540px,#d4d4d4 1575px,#d3d3d3 1610px,#d2d2d2 1645px,#d0d0d0 1680px,#cfcfcf 1715px,#cdcdcd 1750px,#cbcbcb 1785px,#cacaca 1820px,#c8c8c8 1855px,#c6c6c6 1890px,#c4c4c4 1925px)"></i>
<i style="top:872px;background:linear-gradient(90deg,#c4c4c4 0px,#c6c6c6 35px,#c8c8c8 70px,#c9c9c9 105px,#cbcbcb 140px,#cdcdcd 175px,#cecece 210px,#d0d0d0 245px,#d1d1d1 280px,#d3d3d3 315px,#d4d4d4 350px,#d5d5d5 385px,#d6d6d6 420px,#d7d7d7 455px,#d8d8d8 490px,#d9d9d9 525px,#dadada 560px,#dbdbdb 595px,#dcdcdc 630px,#dcdcdc 665px,#dddddd 700px,#dddddd 735px,#dedede 770px,#dedede 840px,#dfdfdf 875px,#dfdfdf 1050px,#dedede 1085px,#dedede 1155px,#dddddd 1190px,#dddddd 1225px,#dcdcdc 1260px,#dcdcdc 1295px,#dbdbdb 1330px,#dadada 1365px,#d9d9d9 1400px,#d8d8d8 1435px,#d7d7d7 1470px,#d6d6d6 1505px,#d5d5d5 1540px,#d4d4d4 1575px,#d3d3d3 1610px,#d1d1d1 1645px,#d0d0d0 1680px,#cecece 1715px,#cdcdcd 1750px,#cbcbcb 1785px,#c9c9c9 1820px,#c8c8c8 1855px,#c6c6c6 1890px,#c4c4c4 1925px)"></i>
<i style="top:880px;background:linear-gradient(90deg,#c3c3c3 0px,#c5c5c5 35px,#c7c7c7 70px,#c9c9c9 105px,#cbcbcb 140px,#cdcdcd 175px,#cecece 210px,#d0d0d0 245px,#d1d1d1 280px,#d3d3d3 315px,#d4d4d4 350px,#d5d5d5 385px,#d6d6d6 420px,#d7d7d7 455px,#d8d8d8 490px,#d9d9d9 525px,#dadada 560px,#dbdbdb 595px,#dbdbdb 630px,#dcdcdc 665px,#dcdcdc 700px,#dddddd 735px,#dddddd 770px,#dedede 805px,#dedede 1120px,#dddddd 1155px,#dddddd 1190px,#dcdcdc 1225px,#dcdcdc 1260px,#dbdbdb 1295px,#dbdbdb 1330px,#dadada 1365px,#d9d9d9 1400px,#d8d8d8 1435px,#d7d7d7 1470px,#d6d6d6 1505px,#d5d5d5 1540px,#d4d4d4 1575px,#d3d3d3 1610px,#d1d1d1 1645px,#d0d0d0 1680px,#cecece 1715px,#cdcdcd 1750px,#cbcbcb 1785px,#c9c9c9 1820px,#c7c7c7 1855px,#c5c5c5 1890px,#c3c3c3 1925px)"></i>
<i style="top:888px;background:linear-gradient(90deg,#c3c3c3 0px,#c5c5c5 35px,#c7c7c7 70px,#c9c9c9 105px,#cbcbcb 140px,#cccccc 175px,#cecece 210px,#cfcfcf 245px,#d1d1d1 280px,#d2d2d2 315px,#d4d4d4 350px,#d5d5d5 385px,#d6d6d6 420px,#d7d7d7 455px,#d8d8d8 490px,#d9d9d9 525px,#dadada 560px,#dadada 595px,#dbdbdb 630px,#dcdcdc 665px,#dcdcdc 700px,#dddddd 735px,#dddddd 805px,#dedede 840px,#dedede 1085px,#dddddd 1120px,#dddddd 1190px,#dcdcdc 1225px,#dcdcdc 1260px,#dbdbdb 1295px,#dadada 1330px,#dadada 1365px,#d9d9d9 1400px,#d8d8d8 1435px,#d7d7d7 1470px,#d6d6d6 1505px,#d5d5d5 1540px,#d4d4d4 1575px,#d2d2d2 1610px,#d1d1d1 1645px,#cfcfcf 1680px,#cecece 1715px,#cccccc 1750px,#cbcbcb 1785px,#c9c9c9 1820px,#c7c7c7 1855px,#c5c5c5 1890px,#c3c3c3 1925px)"></i>
<i style="top:896px;background:linear-gradient(90deg,#c3c3c3 0px,#c5c5c5 35px,#c7c7c7 70px,#c9c9c9 105px,#cacaca 140px,#cccccc 175px,#cecece 210px,#cfcfcf 245px,#d1d1d1 280px,#d2d2d2 315px,#d3d3d3 350px,#d4d4d4 385px,#d6d6d6 420px,#d7d7d7 455px,#d8d8d8 490px,#d8d8d8 525px,#d9d9d9 560px,#dadada 595px,#dbdbdb 630px,#dbdbdb 665px,#dcdcdc 700px,#dcdcdc 735px,#dddddd 770px,#dddddd 840px,#dedede 875px,#dedede 1050px,#dddddd 1085px,#dddddd 1155px,#dcdcdc 1190px,#dcdcdc 1225px,#dbdbdb 1260px,#dbdbdb 1295px,#dadada 1330px,#d9d9d9 1365px,#d8d8d8 1400px,#d8d8d8 1435px,#d7d7d7 1470px,#d6d6d6 1505px,#d4d4d4 1540px,#d3d3d3 1575px,#d2d2d2 1610px,#d1d1d1 1645px,#cfcfcf 1680px,#cecece 1715px,#cccccc 1750px,#cacaca 1785px,#c9c9c9 1820px,#c7c7c7 1855px,#c5c5c5 1890px,#c3c3c3 1925px)"></i>
<i style="top:904px;background:linear-gradient(90deg,#c3c3c3 0px,#c5c5c5 35px,#c7c7c7 70px,#c9c9c9 105px,#cacaca 140px,#cccccc 175px,#cdcdcd 210px,#cfcfcf 245px,#d0d0d0 280px,#d2d2d2 315px,#d3d3d3 350px,#d4d4d4 385px,#d5d5d5 420px,#d6d6d6 455px,#d7d7d7 490px,#d8d8d8 525px,#d9d9d9 560px,#dadada 595px,#dadada 630px,#dbdbdb 665px,#dbdbdb 700px,#dcdcdc 735px,#dcdcdc 770px,#dddddd 805px,#dddddd 1120px,#dcdcdc 1155px,#dcdcdc 1190px,#dbdbdb 1225px,#dbdbdb 1260px,#dadada 1295px,#dadada 1330px,#d9d9d9 1365px,#d8d8d8 1400px,#d7d7d7 1435px,#d6d6d6 1470px,#d5d5d5 1505px,#d4d4d4 1540px,#d3d3d3 1575px,#d2d2d2 1610px,#d0d0d0 1645px,#cfcfcf 1680px,#cdcdcd 1715px,#cccccc 1750px,#cacaca 1785px,#c9c9c9 1820px,#c7c7c7 1855px,#c5c5c5 1890px,#c3c3c3 1925px)"></i>
<i style="top:912px;background:linear-gradient(90deg,#c3c3c3 0px,#c5c5c5 35px,#c6c6c6 70px,#c8c8c8 105px,#cacaca 140px,#cccccc 175px,#cdcdcd 210px,#cfcfcf 245px,#d0d0d0 280px,#d1d1d1 315px,#d3d3d3 350px,#d4d4d4 385px,#d5d5d5 420px,#d6d6d6 455px,#d7d7d7 490px,#d8d8d8 525px,#d9d9d9 560px,#d9d9d9 595px,#dadada 630px,#dbdbdb 665px,#dbdbdb 700px,#dcdcdc 735px,#dcdcdc 805px,#dddddd 840px,#dddddd 1085px,#dcdcdc 1120px,#dcdcdc 1190px,#dbdbdb 1225px,#dbdbdb 1260px,#dadada 1295px,#d9d9d9 1330px,#d9d9d9 1365px,#d8d8d8 1400px,#d7d7d7 1435px,#d6d6d6 1470px,#d5d5d5 1505px,#d4d4d4 1540px,#d3d3d3 1575px,#d1d1d1 1610px,#d0d0d0 1645px,#cfcfcf 1680px,#cdcdcd 1715px,#cccccc 1750px,#cacaca 1785px,#c8c8c8 1820px,#c6c6c6 1855px,#c5c5c5 1890px,#c3c3c3 1925px)"></i>
<i style="top:920px;background:linear-gradient(90deg,#c2c2c2 0px,#c4c4c4 35px,#c6c6c6 70px,#c8c8c8 105px,#cacaca 140px,#cbcbcb 175px,#cdcdcd 210px,#cecece 245px,#d0d0d0 280px,#d1d1d1 315px,#d2d2d2 350px,#d4d4d4 385px,#d5d5d5 420px,#d6d6d6 455px,#d7d7d7 490px,#d7d7d7 525px,#d8d8d8 560px,#d9d9d9 595px,#dadada 630px,#dadada 665px,#dbdbdb 700px,#dbdbdb 735px,#dcdcdc 770px,#dcdcdc 875px,#dddddd 910px,#dddddd 1015px,#dcdcdc 1050px,#dcdcdc 1155px,#dbdbdb 1190px,#dbdbdb 1225px,#dadada 1260px,#dadada 1295px,#d9d9d9 1330px,#d8d8d8 1365px,#d7d7d7 1400px,#d7d7d7 1435px,#d6d6d6 1470px,#d5d5d5 1505px,#d4d4d4 1540px,#d2d2d2 1575px,#d1d1d1 1610px,#d0d0d0 1645px,#cecece 1680px,#cdcdcd 1715px,#cbcbcb 1750px,#cacaca 1785px,#c8c8c8 1820px,#c6c6c6 1855px,#c4c4c4 1890px,#c2c2c2 1925px)"></i>
<i style="top:928px;background:linear-gradient(90deg,#c2c2c2 0px,#c4c4c4 35px,#c6c6c6 70px,#c8c8c8 105px,#c9c9c9 140px,#cbcbcb 175px,#cdcdcd 210px,#cecece 245px,#cfcfcf 280px,#d1d1d1 315px,#d2d2d2 350px,#d3d3d3 385px,#d4d4d4 420px,#d5d5d5 455px,#d6d6d6 490px,#d7d7d7 525px,#d8d8d8 560px,#d9d9d9 595px,#d9d9d9 630px,#dadada 665px,#dadada 700px,#dbdbdb 735px,#dbdbdb 770px,#dcdcdc 805px,#dcdcdc 1120px,#dbdbdb 1155px,#dbdbdb 1190px,#dadada 1225px,#dadada 1260px,#d9d9d9 1295px,#d9d9d9 1330px,#d8d8d8 1365px,#d7d7d7 1400px,#d6d6d6 1435px,#d5d5d5 1470px,#d4d4d4 1505px,#d3d3d3 1540px,#d2d2d2 1575px,#d1d1d1 1610px,#cfcfcf 1645px,#cecece 1680px,#cdcdcd 1715px,#cbcbcb 1750px,#c9c9c9 1785px,#c8c8c8 1820px,#c6c6c6 1855px,#c4c4c4 1890px,#c2c2c2 1925px)"></i>
<i style="top:936px;background:linear-gradient(90deg,#c2c2c2 0px,#c4c4c4 35px,#c6c6c6 70px,#c8c8c8 105px,#c9c9c9 140px,#cbcbcb 175px,#cccccc 210px,#cecece 245px,#cfcfcf 280px,#d1d1d1 315px,#d2d2d2 350px,#d3d3d3 385px,#d4d4d4 420px,#d5d5d5 455px,#d6d6d6 490px,#d7d7d7 525px,#d8d8d8 560px,#d8d8d8 595px,#d9d9d9 630px,#dadada 665px,#dadada 700px,#dbdbdb 735px,#dbdbdb 805px,#dcdcdc 840px,#dcdcdc 1085px,#dbdbdb 1120px,#dbdbdb 1190px,#dadada 1225px,#dadada 1260px,#d9d9d9 1295px,#d8d8d8 1330px,#d8d8d8 1365px,#d7d7d7 1400px,#d6d6d6 1435px,#d5d5d5 1470px,#d4d4d4 1505px,#d3d3d3 1540px,#d2d2d2 1575px,#d1d1d1 1610px,#cfcfcf 1645px,#cecece 1680px,#cccccc 1715px,#cbcbcb 1750px,#c9c9c9 1785px,#c8c8c8 1820px,#c6c6c6 1855px,#c4c4c4 1890px,#c2c2c2 1925px)"></i>
<i style="top:944px;background:linear-gradient(90deg,#c2c2c2 0px,#c4c4c4 35px,#c6c6c6 70px,#c7c7c7 105px,#c9c9c9 140px,#cbcbcb 175px,#cccccc 210px,#cecece 245px,#cfcfcf 280px,#d0d0d0 315px,#d1d1d1 350px,#d3d3d3 385px,#d4d4d4 420px,#d5d5d5 455px,#d6d6d6 490px,#d7d7d7 525px,#d7d7d7 560px,#d8d8d8 595px,#d9d9d9 630px,#d9d9d9 665px,#dadada 700px,#dadada 735px,#dbdbdb 770px,#dbdbdb 875px,#dcdcdc 910px,#dcdcdc 1015px,#dbdbdb 1050px,#dbdbdb 1155px,#dadada 1190px,#dadada 1225px,#d9d9d9 1260px,#d9d9d9 1295px,#d8d8d8 1330px,#d7d7d7 1365px,#d7d7d7 1400px,#d6d6d6 1435px,#d5d5d5 1470px,#d4d4d4 1505px,#d3d3d3 1540px,#d1d1d1 1575px,#d0d0d0 1610px,#cfcfcf 1645px,#cecece 1680px,#cccccc 1715px,#cbcbcb 1750px,#c9c9c9 1785px,#c7c7c7 1820px,#c6c6c6 1855px,#c4c4c4 1890px,#c2c2c2 1925px)"></i>
<i style="top:952px;background:linear-gradient(90deg,#c2c2c2 0px,#c3c3c3 35px,#c5c5c5 70px,#c7c7c7 105px,#c9c9c9 140px,#cacaca 175px,#cccccc 210px,#cdcdcd 245px,#cfcfcf 280px,#d0d0d0 315px,#d1d1d1 350px,#d2d2d2 385px,#d3d3d3 420px,#d4d4d4 455px,#d5d5d5 490px,#d6d6d6 525px,#d7d7d7 560px,#d8d8d8 595px,#d8d8d8 630px,#d9d9d9 665px,#d9d9d9 700px,#dadada 735px,#dadada 770px,#dbdbdb 805px,#dbdbdb 1120px,#dadada 1155px,#dadada 1190px,#d9d9d9 1225px,#d9d9d9 1260px,#d8d8d8 1295px,#d8d8d8 1330px,#d7d7d7 1365px,#d6d6d6 1400px,#d5d5d5 1435px,#d4d4d4 1470px,#d3d3d3 1505px,#d2d2d2 1540px,#d1d1d1 1575px,#d0d0d0 1610px,#cfcfcf 1645px,#cdcdcd 1680px,#cccccc 1715px,#cacaca 1750px,#c9c9c9 1785px,#c7c7c7 1820px,#c5c5c5 1855px,#c3c3c3 1890px,#c2c2c2 1925px)"></i>
<i style="top:960px;background:linear-gradient(90deg,#c1c1c1 0px,#c3c3c3 35px,#c5c5c5 70px,#c7c7c7 105px,#c8c8c8 140px,#cacaca 175px,#cccccc 210px,#cdcdcd 245px,#cecece 280px,#d0d0d0 315px,#d1d1d1 350px,#d2d2d2 385px,#d3d3d3 420px,#d4d4d4 455px,#d5d5d5 490px,#d6d6d6 525px,#d7d7d7 560px,#d7d7d7 595px,#d8d8d8 630px,#d9d9d9 665px,#d9d9d9 700px,#dadada 735px,#dadada 805px,#dbdbdb 840px,#dbdbdb 1085px,#dadada 1120px,#dadada 1190px,#d9d9d9 1225px,#d9d9d9 1260px,#d8d8d8 1295px,#d7d7d7 1330px,#d7d7d7 1365px,#d6d6d6 1400px,#d5d5d5 1435px,#d4d4d4 1470px,#d3d3d3 1505px,#d2d2d2 1540px,#d1d1d1 1575px,#d0d0d0 1610px,#cecece 1645px,#cdcdcd 1680px,#cccccc 1715px,#cacaca 1750px,#c8c8c8 1785px,#c7c7c7 1820px,#c5c5c5 1855px,#c3c3c3 1890px,#c1c1c1 1925px)"></i>
<i style="top:968px;background:linear-gradient(90deg,#c1c1c1 0px,#c3c3c3 35px,#c5c5c5 70px,#c7c7c7 105px,#c8c8c8 140px,#cacaca 175px,#cbcbcb 210px,#cdcdcd 245px,#cecece 280px,#cfcfcf 315px,#d1d1d1 350px,#d2d2d2 385px,#d3d3d3 420px,#d4d4d4 455px,#d5d5d5 490px,#d6d6d6 525px,#d6d6d6 560px,#d7d7d7 595px,#d8d8d8 630px,#d8d8d8 665px,#d9d9d9 700px,#d9d9d9 735px,#dadada 770px,#dadada 875px,#dbdbdb 910px,#dbdbdb 1015px,#dadada 1050px,#dadada 1155px,#d9d9d9 1190px,#d9d9d9 1225px,#d8d8d8 1260px,#d8d8d8 1295px,#d7d7d7 1330px,#d6d6d6 1365px,#d6d6d6 1400px,#d5d5d5 1435px,#d4d4d4 1470px,#d3d3d3 1505px,#d2d2d2 1540px,#d1d1d1 1575px,#cfcfcf 1610px,#cecece 1645px,#cdcdcd 1680px,#cbcbcb 1715px,#cacaca 1750px,#c8c8c8 1785px,#c7c7c7 1820px,#c5c5c5 1855px,#c3c3c3 1890px,#c1c1c1 1925px)"></i>
<i style="top:976px;background:linear-gradient(90deg,#c1c1c1 0px,#c3c3c3 35px,#c5c5c5 70px,#c6c6c6 105px,#c8c8c8 140px,#cacaca 175px,#cbcbcb 210px,#cccccc 245px,#cecece 280px,#cfcfcf 315px,#d0d0d0 350px,#d1d1d1 385px,#d2d2d2 420px,#d3d3d3 455px,#d4d4d4 490px,#d5d5d5 525px,#d6d6d6 560px,#d7d7d7 595px,#d7d7d7 630px,#d8d8d8 665px,#d8d8d8 700px,#d9d9d9 735px,#d9d9d9 770px,#dadada 805px,#dadada 1120px,#d9d9d9 1155px,#d9d9d9 1190px,#d8d8d8 1225px,#d8d8d8 1260px,#d7d7d7 1295px,#d7d7d7 1330px,#d6d6d6 1365px,#d5d5d5 1400px,#d4d4d4 1435px,#d3d3d3 1470px,#d2d2d2 1505px,#d1d1d1 1540px,#d0d0d0 1575px,#cfcfcf 1610px,#cecece 1645px,#cccccc 1680px,#cbcbcb 1715px,#cacaca 1750px,#c8c8c8 1785px,#c6c6c6 1820px,#c5c5c5 1855px,#c3c3c3 1890px,#c1c1c1 1925px)"></i>
<i style="top:984px;background:linear-gradient(90deg,#c1c1c1 0px,#c3c3c3 35px,#c4c4c4 70px,#c6c6c6 105px,#c8c8c8 140px,#c9c9c9 175px,#cbcbcb 210px,#cccccc 245px,#cecece 280px,#cfcfcf 315px,#d0d0d0 350px,#d1d1d1 385px,#d2d2d2 420px,#d3d3d3 455px,#d4d4d4 490px,#d5d5d5 525px,#d6d6d6 560px,#d6d6d6 595px,#d7d7d7 630px,#d8d8d8 665px,#d8d8d8 700px,#d9d9d9 735px,#d9d9d9 805px,#dadada 840px,#dadada 1085px,#d9d9d9 1120px,#d9d9d9 1190px,#d8d8d8 1225px,#d8d8d8 1260px,#d7d7d7 1295px,#d6d6d6 1330px,#d6d6d6 1365px,#d5d5d5 1400px,#d4d4d4 1435px,#d3d3d3 1470px,#d2d2d2 1505px,#d1d1d1 1540px,#d0d0d0 1575px,#cfcfcf 1610px,#cecece 1645px,#cccccc 1680px,#cbcbcb 1715px,#c9c9c9 1750px,#c8c8c8 1785px,#c6c6c6 1820px,#c4c4c4 1855px,#c3c3c3 1890px,#c1c1c1 1925px)"></i>
<i style="top:992px;background:linear-gradient(90deg,#c0c0c0 0px,#c2c2c2 35px,#c4c4c4 70px,#c6c6c6 105px,#c7c7c7 140px,#c9c9c9 175px,#cacaca 210px,#cccccc 245px,#cdcdcd 280px,#cecece 315px,#d0d0d0 350px,#d1d1d1 385px,#d2d2d2 420px,#d3d3d3 455px,#d4d4d4 490px,#d5d5d5 525px,#d5d5d5 560px,#d6d6d6 595px,#d7d7d7 630px,#d7d7d7 665px,#d8d8d8 700px,#d8d8d8 735px,#d9d9d9 770px,#d9d9d9 875px,#dadada 910px,#dadada 1015px,#d9d9d9 1050px,#d9d9d9 1155px,#d8d8d8 1190px,#d8d8d8 1225px,#d7d7d7 1260px,#d7d7d7 1295px,#d6d6d6 1330px,#d5d5d5 1365px,#d5d5d5 1400px,#d4d4d4 1435px,#d3d3d3 1470px,#d2d2d2 1505px,#d1d1d1 1540px,#d0d0d0 1575px,#cecece 1610px,#cdcdcd 1645px,#cccccc 1680px,#cacaca 1715px,#c9c9c9 1750px,#c7c7c7 1785px,#c6c6c6 1820px,#c4c4c4 1855px,#c2c2c2 1890px,#c0c0c0 1925px)"></i>
<i style="top:1000px;background:linear-gradient(90deg,#c0c0c0 0px,#c2c2c2 35px,#c4c4c4 70px,#c6c6c6 105px,#c7c7c7 140px,#c9c9c9 175px,#cacaca 210px,#cccccc 245px,#cdcdcd 280px,#cecece 315px,#cfcfcf 350px,#d1d1d1 385px,#d2d2d2 420px,#d3d3d3 455px,#d3d3d3 490px,#d4d4d4 525px,#d5d5d5 560px,#d6d6d6 595px,#d6d6d6 630px,#d7d7d7 665px,#d7d7d7 700px,#d8d8d8 735px,#d8d8d8 770px,#d9d9d9 805px,#d9d9d9 1120px,#d8d8d8 1155px,#d8d8d8 1190px,#d7d7d7 1225px,#d7d7d7 1260px,#d6d6d6 1295px,#d6d6d6 1330px,#d5d5d5 1365px,#d4d4d4 1400px,#d3d3d3 1435px,#d3d3d3 1470px,#d2d2d2 1505px,#d1d1d1 1540px,#cfcfcf 1575px,#cecece 1610px,#cdcdcd 1645px,#cccccc 1680px,#cacaca 1715px,#c9c9c9 1750px,#c7c7c7 1785px,#c6c6c6 1820px,#c4c4c4 1855px,#c2c2c2 1890px,#c0c0c0 1925px)"></i>
<i style="top:1008px;background:linear-gradient(90deg,#c0c0c0 0px,#c2c2c2 35px,#c4c4c4 70px,#c5c5c5 105px,#c7c7c7 140px,#c8c8c8 175px,#cacaca 210px,#cbcbcb 245px,#cdcdcd 280px,#cecece 315px,#cfcfcf 350px,#d0d0d0 385px,#d1d1d1 420px,#d2d2d2 455px,#d3d3d3 490px,#d4d4d4 525px,#d5d5d5 560px,#d5d5d5 595px,#d6d6d6 630px,#d7d7d7 665px,#d7d7d7 700px,#d8d8d8 735px,#d8d8d8 805px,#d9d9d9 840px,#d9d9d9 1085px,#d8d8d8 1120px,#d8d8d8 1190px,#d7d7d7 1225px,#d7d7d7 1260px,#d6d6d6 1295px,#d5d5d5 1330px,#d5d5d5 1365px,#d4d4d4 1400px,#d3d3d3 1435px,#d2d2d2 1470px,#d1d1d1 1505px,#d0d0d0 1540px,#cfcfcf 1575px,#cecece 1610px,#cdcdcd 1645px,#cbcbcb 1680px,#cacaca 1715px,#c8c8c8 1750px,#c7c7c7 1785px,#c5c5c5 1820px,#c4c4c4 1855px,#c2c2c2 1890px,#c0c0c0 1925px)"></i>
<i style="top:1016px;background:linear-gradient(90deg,#c0c0c0 0px,#c2c2c2 35px,#c3c3c3 70px,#c5c5c5 105px,#c7c7c7 140px,#c8c8c8 175px,#cacaca 210px,#cbcbcb 245px,#cccccc 280px,#cecece 315px,#cfcfcf 350px,#d0d0d0 385px,#d1d1d1 420px,#d2d2d2 455px,#d3d3d3 490px,#d4d4d4 525px,#d4d4d4 560px,#d5d5d5 595px,#d6d6d6 630px,#d6d6d6 665px,#d7d7d7 700px,#d7d7d7 735px,#d8d8d8 770px,#d8d8d8 875px,#d9d9d9 910px,#d9d9d9 1015px,#d8d8d8 1050px,#d8d8d8 1155px,#d7d7d7 1190px,#d7d7d7 1225px,#d6d6d6 1260px,#d6d6d6 1295px,#d5d5d5 1330px,#d4d4d4 1365px,#d4d4d4 1400px,#d3d3d3 1435px,#d2d2d2 1470px,#d1d1d1 1505px,#d0d0d0 1540px,#cfcfcf 1575px,#cecece 1610px,#cccccc 1645px,#cbcbcb 1680px,#cacaca 1715px,#c8c8c8 1750px,#c7c7c7 1785px,#c5c5c5 1820px,#c3c3c3 1855px,#c2c2c2 1890px,#c0c0c0 1925px)"></i>
<i style="top:1024px;background:linear-gradient(90deg,#c0c0c0 0px,#c1c1c1 35px,#c3c3c3 70px,#c5c5c5 105px,#c6c6c6 140px,#c8c8c8 175px,#c9c9c9 210px,#cbcbcb 245px,#cccccc 280px,#cdcdcd 315px,#cecece 350px,#d0d0d0 385px,#d1d1d1 420px,#d2d2d2 455px,#d2d2d2 490px,#d3d3d3 525px,#d4d4d4 560px,#d5d5d5 595px,#d5d5d5 630px,#d6d6d6 665px,#d6d6d6 700px,#d7d7d7 735px,#d7d7d7 770px,#d8d8d8 805px,#d8d8d8 1120px,#d7d7d7 1155px,#d7d7d7 1190px,#d6d6d6 1225px,#d6d6d6 1260px,#d5d5d5 1295px,#d5d5d5 1330px,#d4d4d4 1365px,#d3d3d3 1400px,#d2d2d2 1435px,#d2d2d2 1470px,#d1d1d1 1505px,#d0d0d0 1540px,#cecece 1575px,#cdcdcd 1610px,#cccccc 1645px,#cbcbcb 1680px,#c9c9c9 1715px,#c8c8c8 1750px,#c6c6c6 1785px,#c5c5c5 1820px,#c3c3c3 1855px,#c1c1c1 1890px,#c0c0c0 1925px)"></i>
<i style="top:1032px;background:linear-gradient(90deg,#bfbfbf 0px,#c1c1c1 35px,#c3c3c3 70px,#c5c5c5 105px,#c6c6c6 140px,#c8c8c8 175px,#c9c9c9 210px,#cacaca 245px,#cccccc 280px,#cdcdcd 315px,#cecece 350px,#cfcfcf 385px,#d0d0d0 420px,#d1d1d1 455px,#d2d2d2 490px,#d3d3d3 525px,#d4d4d4 560px,#d4d4d4 595px,#d5d5d5 630px,#d6d6d6 665px,#d6d6d6 700px,#d7d7d7 735px,#d7d7d7 805px,#d8d8d8 840px,#d8d8d8 1085px,#d7d7d7 1120px,#d7d7d7 1190px,#d6d6d6 1225px,#d6d6d6 1260px,#d5d5d5 1295px,#d4d4d4 1330px,#d4d4d4 1365px,#d3d3d3 1400px,#d2d2d2 1435px,#d1d1d1 1470px,#d0d0d0 1505px,#cfcfcf 1540px,#cecece 1575px,#cdcdcd 1610px,#cccccc 1645px,#cacaca 1680px,#c9c9c9 1715px,#c8c8c8 1750px,#c6c6c6 1785px,#c5c5c5 1820px,#c3c3c3 1855px,#c1c1c1 1890px,#bfbfbf 1925px)"></i>
<i style="top:1040px;background:linear-gradient(90deg,#bfbfbf 0px,#c1c1c1 35px,#c3c3c3 70px,#c4c4c4 105px,#c6c6c6 140px,#c7c7c7 175px,#c9c9c9 210px,#cacaca 245px,#cccccc 280px,#cdcdcd 315px,#cecece 350px,#cfcfcf 385px,#d0d0d0 420px,#d1d1d1 455px,#d2d2d2 490px,#d3d3d3 525px,#d3d3d3 560px,#d4d4d4 595px,#d5d5d5 630px,#d5d5d5 665px,#d6d6d6 700px,#d6d6d6 735px,#d7d7d7 770px,#d7d7d7 875px,#d8d8d8 910px,#d8d8d8 1015px,#d7d7d7 1050px,#d7d7d7 1155px,#d6d6d6 1190px,#d6d6d6 1225px,#d5d5d5 1260px,#d5d5d5 1295px,#d4d4d4 1330px,#d3d3d3 1365px,#d3d3d3 1400px,#d2d2d2 1435px,#d1d1d1 1470px,#d0d0d0 1505px,#cfcfcf 1540px,#cecece 1575px,#cdcdcd 1610px,#cccccc 1645px,#cacaca 1680px,#c9c9c9 1715px,#c7c7c7 1750px,#c6c6c6 1785px,#c4c4c4 1820px,#c3c3c3 1855px,#c1c1c1 1890px,#bfbfbf 1925px)"></i>
</div>
<div id="leg"></div>
<svg width="1925" height="1048" viewBox="0 0 1925 1048">
<defs><linearGradient id="gl" x1="0" y1="0" x2="0" y2="1">
<stop offset="0" stop-color="#000" stop-opacity=".065"/>
<stop offset=".14" stop-color="#000" stop-opacity=".095"/>
<stop offset=".56" stop-color="#000" stop-opacity=".19"/>
<stop offset=".80" stop-color="#000" stop-opacity=".31"/>
<stop offset="1" stop-color="#000" stop-opacity=".45"/>
</linearGradient></defs>
<rect x="290.0" y="124" width="2" height="829" fill="url(#gl)"/>
<rect x="469.0" y="124" width="2" height="829" fill="url(#gl)"/>
<rect x="648.0" y="124" width="2" height="829" fill="url(#gl)"/>
<rect x="827.0" y="124" width="2" height="829" fill="url(#gl)"/>
<rect x="1006.0" y="124" width="2" height="829" fill="url(#gl)"/>
<rect x="1185.0" y="124" width="2" height="829" fill="url(#gl)"/>
<rect x="1364.0" y="124" width="2" height="829" fill="url(#gl)"/>
<rect x="1543.0" y="124" width="2" height="829" fill="url(#gl)"/>
<rect x="1722.0" y="124" width="2" height="829" fill="url(#gl)"/>
<rect x="1901.0" y="124" width="2" height="829" fill="url(#gl)"/>
<rect x="111.90" y="158.85" width="718.18" height="48.40" fill="rgba(112,173,71,0.85)"/>
<rect x="829.58" y="158.85" width="1002.38" height="48.40" fill="rgba(68,114,196,0.85)"/>
<rect x="1831.46" y="158.85" width="71.04" height="48.40" fill="rgba(255,192,0,0.85)"/>
<rect x="111.90" y="277.32" width="719.85" height="48.40" fill="rgba(112,173,71,0.85)"/>
<rect x="831.25" y="277.32" width="1007.31" height="48.40" fill="rgba(68,114,196,0.85)"/>
<rect x="1838.06" y="277.32" width="64.44" height="48.40" fill="rgba(255,192,0,0.85)"/>
<rect x="111.90" y="395.79" width="703.66" height="48.40" fill="rgba(112,173,71,0.85)"/>
<rect x="815.06" y="395.79" width="1026.10" height="48.40" fill="rgba(68,114,196,0.85)"/>
<rect x="1840.66" y="395.79" width="61.84" height="48.40" fill="rgba(255,192,0,0.85)"/>
<rect x="111.90" y="514.26" width="697.73" height="48.40" fill="rgba(112,173,71,0.85)"/>
<rect x="809.13" y="514.26" width="1035.52" height="48.40" fill="rgba(68,114,196,0.85)"/>
<rect x="1844.15" y="514.26" width="58.35" height="48.40" fill="rgba(255,192,0,0.85)"/>
<rect x="111.90" y="632.73" width="735.62" height="48.40" fill="rgba(112,173,71,0.85)"/>
<rect x="847.02" y="632.73" width="1003.53" height="48.40" fill="rgba(68,114,196,0.85)"/>
<rect x="1850.05" y="632.73" width="52.45" height="48.40" fill="rgba(255,192,0,0.85)"/>
<rect x="111.90" y="751.20" width="763.46" height="48.40" fill="rgba(112,173,71,0.85)"/>
<rect x="874.86" y="751.20" width="985.50" height="48.40" fill="rgba(68,114,196,0.85)"/>
<rect x="1859.86" y="751.20" width="42.64" height="48.40" fill="rgba(255,192,0,0.85)"/>
<rect x="111.90" y="869.67" width="785.21" height="48.40" fill="rgba(112,173,71,0.85)"/>
<rect x="896.61" y="869.67" width="968.28" height="48.40" fill="rgba(68,114,196,0.85)"/>
<rect x="1864.39" y="869.67" width="38.11" height="48.40" fill="rgba(255,192,0,0.85)"/>
<rect x="154.4" y="995.0" width="21.5" height="21.5" fill="rgba(112,173,71,0.85)"/>
<rect x="782.9" y="995.0" width="21.5" height="21.5" fill="rgba(68,114,196,0.85)"/>
<rect x="1273.8" y="995.0" width="21.5" height="21.5" fill="rgba(255,192,0,0.85)"/>
<rect x="112.40" y="159.35" width="717.18" height="47.40" fill="none" stroke="rgba(255,255,255,.7)" stroke-width="2"/>
<rect x="829.58" y="159.35" width="1001.88" height="47.40" fill="none" stroke="rgba(255,255,255,.7)" stroke-width="2"/>
<rect x="1831.46" y="159.35" width="70.54" height="47.40" fill="none" stroke="rgba(255,255,255,.7)" stroke-width="2"/>
<rect x="112.40" y="277.82" width="718.85" height="47.40" fill="none" stroke="rgba(255,255,255,.7)" stroke-width="2"/>
<rect x="831.25" y="277.82" width="1006.81" height="47.40" fill="none" stroke="rgba(255,255,255,.7)" stroke-width="2"/>
<rect x="1838.06" y="277.82" width="63.94" height="47.40" fill="none" stroke="rgba(255,255,255,.7)" stroke-width="2"/>
<rect x="112.40" y="396.29" width="702.66" height="47.40" fill="none" stroke="rgba(255,255,255,.7)" stroke-width="2"/>
<rect x="815.06" y="396.29" width="1025.60" height="47.40" fill="none" stroke="rgba(255,255,255,.7)" stroke-width="2"/>
<rect x="1840.66" y="396.29" width="61.34" height="47.40" fill="none" stroke="rgba(255,255,255,.7)" stroke-width="2"/>
<rect x="112.40" y="514.76" width="696.73" height="47.40" fill="none" stroke="rgba(255,255,255,.7)" stroke-width="2"/>
<rect x="809.13" y="514.76" width="1035.02" height="47.40" fill="none" stroke="rgba(255,255,255,.7)" stroke-width="2"/>
<rect x="1844.15" y="514.76" width="57.85" height="47.40" fill="none" stroke="rgba(255,255,255,.7)" stroke-width="2"/>
<rect x="112.40" y="633.23" width="734.62" height="47.40" fill="none" stroke="rgba(255,255,255,.7)" stroke-width="2"/>
<rect x="847.02" y="633.23" width="1003.03" height="47.40" fill="none" stroke="rgba(255,255,255,.7)" stroke-width="2"/>
<rect x="1850.05" y="633.23" width="51.95" height="47.40" fill="none" stroke="rgba(255,255,255,.7)" stroke-width="2"/>
<rect x="112.40" y="751.70" width="762.46" height="47.40" fill="none" stroke="rgba(255,255,255,.7)" stroke-width="2"/>
<rect x="874.86" y="751.70" width="985.00" height="47.40" fill="none" stroke="rgba(255,255,255,.7)" stroke-width="2"/>
<rect x="1859.86" y="751.70" width="42.14" height="47.40" fill="none" stroke="rgba(255,255,255,.7)" stroke-width="2"/>
<rect x="112.40" y="870.17" width="784.21" height="47.40" fill="none" stroke="rgba(255,255,255,.7)" stroke-width="2"/>
<rect x="896.61" y="870.17" width="967.78" height="47.40" fill="none" stroke="rgba(255,255,255,.7)" stroke-width="2"/>
<rect x="1864.39" y="870.17" width="37.61" height="47.40" fill="none" stroke="rgba(255,255,255,.7)" stroke-width="2"/>
<rect x="155.1" y="995.8" width="20" height="20" fill="none" stroke="rgba(255,255,255,.7)" stroke-width="2"/>
<rect x="783.6" y="995.8" width="20" height="20" fill="none" stroke="rgba(255,255,255,.7)" stroke-width="2"/>
<rect x="1274.5" y="995.8" width="20" height="20" fill="none" stroke="rgba(255,255,255,.7)" stroke-width="2"/>
<rect x="111" y="123.5" width="3" height="829.5" fill="#3b3b3b"/>
</svg>
<div class="t" style="left:403.99px;top:167.20px;font-size:34.20px;color:#fff;">1744700</div>
<div class="t" style="left:1264.02px;top:167.20px;font-size:34.20px;color:#fff;">2437300</div>
<div class="t" style="left:1792.14px;top:173.75px;font-size:29.70px;color:#fff;transform:scaleX(1.0292);">171600</div>
<div class="t" style="left:14.45px;top:167.25px;font-size:30.10px;color:#404040;transform:scaleX(0.9977);">2017</div>
<div class="t" style="left:404.83px;top:285.67px;font-size:34.20px;color:#fff;">1769700</div>
<div class="t" style="left:1268.16px;top:285.67px;font-size:34.20px;color:#fff;">2478600</div>
<div class="t" style="left:1791.75px;top:291.60px;font-size:29.70px;color:#fff;transform:scaleX(1.0240);">157400</div>
<div class="t" style="left:14.45px;top:285.72px;font-size:30.10px;color:#404040;transform:scaleX(0.9977);">2016</div>
<div class="t" style="left:396.73px;top:404.14px;font-size:34.20px;color:#fff;">1765300</div>
<div class="t" style="left:1261.36px;top:404.14px;font-size:34.20px;color:#fff;">2576600</div>
<div class="t" style="left:1793.44px;top:406.75px;font-size:29.70px;color:#fff;transform:scaleX(1.0292);">154100</div>
<div class="t" style="left:14.45px;top:404.19px;font-size:30.10px;color:#404040;transform:scaleX(0.9977);">2015</div>
<div class="t" style="left:393.76px;top:522.61px;font-size:34.20px;color:#fff;">1771600</div>
<div class="t" style="left:1260.14px;top:522.61px;font-size:34.20px;color:#fff;">2631800</div>
<div class="t" style="left:1787.45px;top:518.90px;font-size:29.70px;color:#fff;transform:scaleX(1.0260);">147100</div>
<div class="t" style="left:14.47px;top:522.66px;font-size:30.10px;color:#404040;transform:scaleX(0.9826);">2014</div>
<div class="t" style="left:412.71px;top:641.08px;font-size:34.20px;color:#fff;">1879400</div>
<div class="t" style="left:1282.04px;top:641.08px;font-size:34.20px;color:#fff;">2566100</div>
<div class="t" style="left:1789.55px;top:643.95px;font-size:29.70px;color:#fff;transform:scaleX(1.0250);">132900</div>
<div class="t" style="left:14.45px;top:641.13px;font-size:30.10px;color:#404040;transform:scaleX(0.9977);">2013</div>
<div class="t" style="left:426.63px;top:759.55px;font-size:34.20px;color:#fff;">1965000</div>
<div class="t" style="left:1300.86px;top:759.55px;font-size:34.20px;color:#fff;">2538500</div>
<div class="t" style="left:1791.75px;top:763.75px;font-size:29.70px;color:#fff;transform:scaleX(1.0240);">108600</div>
<div class="t" style="left:14.45px;top:759.60px;font-size:30.10px;color:#404040;transform:scaleX(0.9977);">2012</div>
<div class="t" style="left:438.00px;top:878.02px;font-size:34.20px;color:#fff;">2055700</div>
<div class="t" style="left:1314.00px;top:878.02px;font-size:34.20px;color:#fff;">2536900</div>
<div class="t" style="left:1808.47px;top:882.90px;font-size:29.70px;color:#fff;transform:scaleX(1.0325);">98600</div>
<div class="t" style="left:14.44px;top:878.07px;font-size:30.10px;color:#404040;transform:scaleX(1.0133);">2011</div>
<div class="t" style="left:618.96px;top:29.12px;font-size:58.20px;color:#404040;transform:scaleX(0.9859);">Количество</div>
<div class="t" style="left:965.66px;top:29.12px;font-size:58.20px;color:#404040;transform:scaleX(1.0109);">работников</div>
<div class="t" style="left:185.24px;top:987.30px;font-size:33.00px;color:#404040;transform:scaleX(0.8800);">В</div>
<div class="t" style="left:214.27px;top:987.30px;font-size:33.00px;color:#404040;transform:scaleX(0.9656);">государственных</div>
<div class="t" style="left:501.00px;top:987.30px;font-size:33.00px;color:#404040;">организациях</div>
<div class="t" style="left:814.30px;top:987.30px;font-size:33.00px;color:#404040;transform:scaleX(0.8725);">В</div>
<div class="t" style="left:843.16px;top:987.30px;font-size:33.00px;color:#404040;transform:scaleX(0.9445);">частных</div>
<div class="t" style="left:982.90px;top:987.30px;font-size:33.00px;color:#404040;">организациях</div>
<div class="t" style="left:1304.64px;top:987.30px;font-size:33.00px;color:#404040;transform:scaleX(0.8800);">В</div>
<div class="t" style="left:1333.74px;top:987.30px;font-size:33.00px;color:#404040;transform:scaleX(0.9779);">иностранных</div>
<div class="t" style="left:1557.40px;top:987.30px;font-size:33.00px;color:#404040;">организациях</div>
<div id="bd"></div>
</div>
</body></html>
